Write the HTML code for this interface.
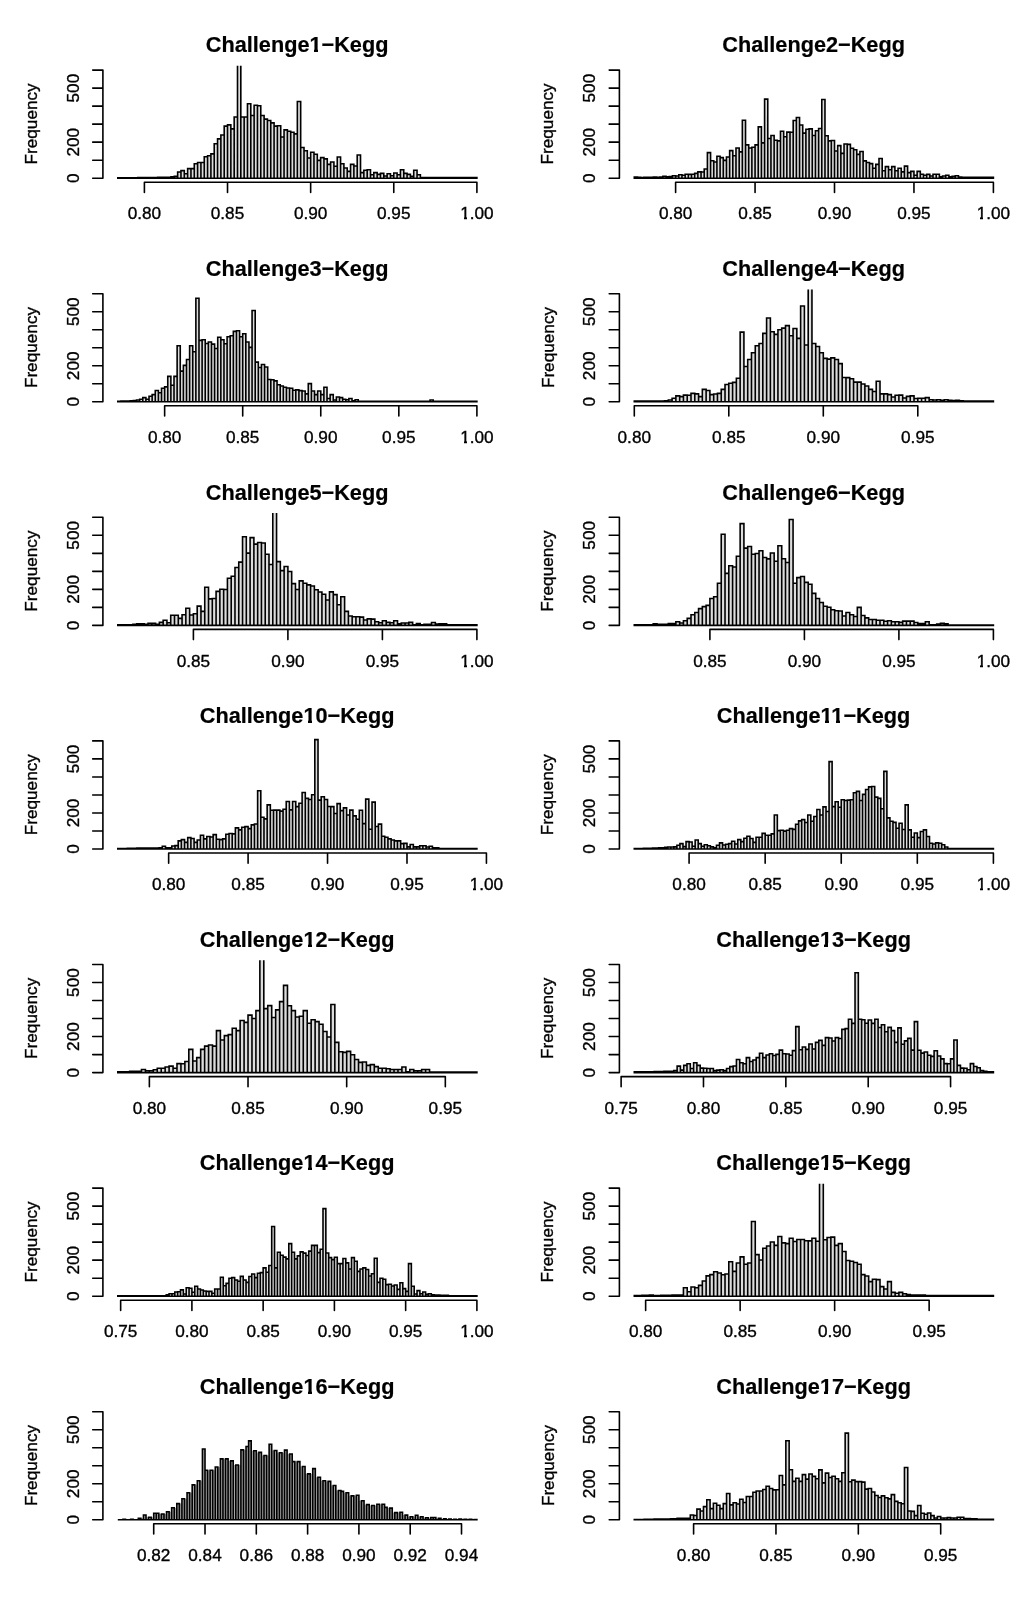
<!DOCTYPE html>
<html><head><meta charset="utf-8"><style>
html,body{margin:0;padding:0;background:#fff;}
body{width:1024px;height:1608px;overflow:hidden;}
svg{display:block;will-change:transform;}
.ax{font-family:"Liberation Sans",sans-serif;font-size:17.2px;fill:#000;stroke:#000;stroke-width:0.35px;}
.ti{font-family:"Liberation Sans",sans-serif;font-size:21.7px;font-weight:bold;fill:#000;stroke:#000;stroke-width:0.2px;}
</style></head><body>
<svg width="1024" height="1608" viewBox="0 0 1024 1608"><rect width="100%" height="100%" fill="#fff"/><clipPath id="c0"><rect x="90.00" y="65.78" width="420" height="117.42"/></clipPath><path clip-path="url(#c0)" d="M117.80 178.20V177.84H121.12V178.20ZM121.12 178.20V177.84H124.45V178.20ZM124.45 178.20V177.84H127.78V178.20ZM127.77 178.20V177.84H131.10V178.20ZM131.10 178.20V177.84H134.42V178.20ZM134.43 178.20V177.84H137.75V178.20ZM137.75 178.20V177.66H141.07V178.20ZM141.07 178.20V177.66H144.40V178.20ZM144.40 178.20V177.66H147.72V178.20ZM147.72 178.20V177.66H151.05V178.20ZM151.05 178.20V177.66H154.38V178.20ZM154.38 178.20V177.66H157.70V178.20ZM157.70 178.20V177.30H161.02V178.20ZM161.02 178.20V177.30H164.35V178.20ZM164.35 178.20V177.30H167.67V178.20ZM167.67 178.20V177.30H171.00V178.20ZM171.00 178.20V176.76H174.32V178.20ZM174.32 178.20V176.40H177.65V178.20ZM177.65 178.20V172.07H180.97V178.20ZM180.97 178.20V170.63H184.30V178.20ZM184.30 178.20V173.70H187.62V178.20ZM187.62 178.20V168.65H190.95V178.20ZM190.95 178.20V168.65H194.27V178.20ZM194.27 178.20V163.79H197.60V178.20ZM197.60 178.20V162.53H200.92V178.20ZM200.93 178.20V162.53H204.25V178.20ZM204.25 178.20V156.76H207.57V178.20ZM207.57 178.20V155.68H210.90V178.20ZM210.90 178.20V153.88H214.22V178.20ZM214.22 178.20V143.79H217.55V178.20ZM217.55 178.20V138.92H220.87V178.20ZM220.88 178.20V134.96H224.20V178.20ZM224.20 178.20V126.13H227.52V178.20ZM227.52 178.20V124.87H230.85V178.20ZM230.85 178.20V128.83H234.17V178.20ZM234.17 178.20V116.94H237.50V178.20ZM237.50 178.20V46.32H240.82V178.20ZM240.82 178.20V116.94H244.15V178.20ZM244.15 178.20V116.94H247.47V178.20ZM247.47 178.20V103.79H250.80V178.20ZM250.80 178.20V115.50H254.12V178.20ZM254.12 178.20V105.23H257.45V178.20ZM257.45 178.20V105.77H260.77V178.20ZM260.77 178.20V115.50H264.10V178.20ZM264.10 178.20V119.11H267.42V178.20ZM267.43 178.20V120.55H270.75V178.20ZM270.75 178.20V122.89H274.07V178.20ZM274.07 178.20V126.13H277.40V178.20ZM277.40 178.20V125.77H280.72V178.20ZM280.72 178.20V136.94H284.05V178.20ZM284.05 178.20V129.92H287.38V178.20ZM287.38 178.20V131.18H290.70V178.20ZM290.70 178.20V132.26H294.02V178.20ZM294.02 178.20V133.88H297.35V178.20ZM297.35 178.20V101.45H300.67V178.20ZM300.67 178.20V147.57H304.00V178.20ZM304.00 178.20V150.81H307.32V178.20ZM307.32 178.20V158.02H310.65V178.20ZM310.65 178.20V152.26H313.97V178.20ZM313.97 178.20V154.24H317.30V178.20ZM317.30 178.20V160.36H320.62V178.20ZM320.62 178.20V157.66H323.95V178.20ZM323.95 178.20V158.92H327.27V178.20ZM327.27 178.20V164.33H330.60V178.20ZM330.60 178.20V161.98H333.92V178.20ZM333.92 178.20V166.31H337.25V178.20ZM337.25 178.20V156.94H340.57V178.20ZM340.57 178.20V163.79H343.90V178.20ZM343.90 178.20V167.93H347.22V178.20ZM347.22 178.20V171.35H350.55V178.20ZM350.55 178.20V164.33H353.87V178.20ZM353.88 178.20V165.95H357.20V178.20ZM357.20 178.20V154.96H360.52V178.20ZM360.52 178.20V172.61H363.85V178.20ZM363.85 178.20V170.27H367.17V178.20ZM367.17 178.20V169.73H370.50V178.20ZM370.50 178.20V174.78H373.82V178.20ZM373.82 178.20V172.61H377.15V178.20ZM377.15 178.20V174.42H380.47V178.20ZM380.47 178.20V173.34H383.80V178.20ZM383.80 178.20V176.04H387.12V178.20ZM387.12 178.20V173.70H390.45V178.20ZM390.45 178.20V175.68H393.77V178.20ZM393.77 178.20V172.98H397.10V178.20ZM397.10 178.20V174.78H400.42V178.20ZM400.43 178.20V169.73H403.75V178.20ZM403.75 178.20V173.34H407.07V178.20ZM407.07 178.20V174.42H410.40V178.20ZM410.40 178.20V176.40H413.72V178.20ZM413.72 178.20V170.27H417.05V178.20ZM417.05 178.20V174.78H420.38V178.20ZM420.38 178.20V177.48H423.70V178.20ZM423.70 178.20V177.48H427.02V178.20ZM427.02 178.20V177.48H430.35V178.20ZM430.35 178.20V177.48H433.67V178.20ZM433.68 178.20V177.48H437.00V178.20ZM437.00 178.20V177.48H440.32V178.20ZM440.32 178.20V177.48H443.65V178.20ZM443.65 178.20V177.48H446.97V178.20ZM446.97 178.20V177.48H450.30V178.20ZM450.30 178.20V177.48H453.62V178.20ZM453.62 178.20V177.48H456.95V178.20ZM456.95 178.20V177.48H460.27V178.20ZM460.27 178.20V177.48H463.60V178.20ZM463.60 178.20V177.48H466.92V178.20ZM466.93 178.20V177.48H470.25V178.20ZM470.25 178.20V177.48H473.57V178.20ZM473.57 178.20V177.48H476.90V178.20Z" fill="#dcdcdc" stroke="#000" stroke-width="1.6" stroke-linejoin="miter"/><path d="M102.90 178.20V70.10M92.70 178.20H102.90M92.70 160.18H102.90M92.70 142.17H102.90M92.70 124.15H102.90M92.70 106.13H102.90M92.70 88.12H102.90M92.70 70.10H102.90" fill="none" stroke="#000" stroke-width="1.6" stroke-linecap="round"/><text x="78.70" y="178.20" transform="rotate(-90 78.70 178.20)" text-anchor="middle" class="ax">0</text><text x="78.70" y="142.17" transform="rotate(-90 78.70 142.17)" text-anchor="middle" class="ax">200</text><text x="78.70" y="88.12" transform="rotate(-90 78.70 88.12)" text-anchor="middle" class="ax">500</text><path d="M144.40 182.20H476.90M144.40 182.20V192.40M227.52 182.20V192.40M310.65 182.20V192.40M393.77 182.20V192.40M476.90 182.20V192.40" fill="none" stroke="#000" stroke-width="1.6" stroke-linecap="round"/><text x="144.40" y="219.40" text-anchor="middle" class="ax">0.80</text><text x="227.52" y="219.40" text-anchor="middle" class="ax">0.85</text><text x="310.65" y="219.40" text-anchor="middle" class="ax">0.90</text><text x="393.77" y="219.40" text-anchor="middle" class="ax">0.95</text><text x="476.90" y="219.40" text-anchor="middle" class="ax">1.00</text><text x="297.10" y="52.40" text-anchor="middle" class="ti">Challenge1−Kegg</text><text x="37.00" y="123.90" transform="rotate(-90 37.00 123.90)" text-anchor="middle" class="ax">Frequency</text><clipPath id="c1"><rect x="606.50" y="65.78" width="420" height="117.42"/></clipPath><path clip-path="url(#c1)" d="M634.30 178.20V177.12H637.48V178.20ZM637.48 178.20V177.30H640.66V178.20ZM640.66 178.20V177.48H643.83V178.20ZM643.83 178.20V177.30H647.01V178.20ZM647.01 178.20V177.30H650.19V178.20ZM650.19 178.20V177.30H653.37V178.20ZM653.37 178.20V177.12H656.55V178.20ZM656.55 178.20V177.30H659.72V178.20ZM659.72 178.20V177.12H662.90V178.20ZM662.90 178.20V176.40H666.08V178.20ZM666.08 178.20V176.76H669.26V178.20ZM669.26 178.20V176.58H672.43V178.20ZM672.43 178.20V175.68H675.61V178.20ZM675.61 178.20V176.04H678.79V178.20ZM678.79 178.20V174.78H681.97V178.20ZM681.97 178.20V175.32H685.15V178.20ZM685.15 178.20V174.24H688.32V178.20ZM688.32 178.20V174.42H691.50V178.20ZM691.50 178.20V174.24H694.68V178.20ZM694.68 178.20V173.34H697.86V178.20ZM697.86 178.20V171.89H701.04V178.20ZM701.04 178.20V172.07H704.21V178.20ZM704.21 178.20V169.01H707.39V178.20ZM707.39 178.20V152.62H710.57V178.20ZM710.57 178.20V160.72H713.75V178.20ZM713.75 178.20V161.98H716.92V178.20ZM716.92 178.20V156.22H720.10V178.20ZM720.10 178.20V157.66H723.28V178.20ZM723.28 178.20V160.36H726.46V178.20ZM726.46 178.20V156.94H729.64V178.20ZM729.64 178.20V150.63H732.81V178.20ZM732.81 178.20V155.68H735.99V178.20ZM735.99 178.20V147.93H739.17V178.20ZM739.17 178.20V151.90H742.35V178.20ZM742.35 178.20V120.19H745.53V178.20ZM745.53 178.20V144.87H748.70V178.20ZM748.70 178.20V147.93H751.88V178.20ZM751.88 178.20V147.21H755.06V178.20ZM755.06 178.20V144.87H758.24V178.20ZM758.24 178.20V126.85H761.42V178.20ZM761.42 178.20V142.89H764.59V178.20ZM764.59 178.20V99.11H767.77V178.20ZM767.77 178.20V138.56H770.95V178.20ZM770.95 178.20V135.50H774.13V178.20ZM774.13 178.20V140.18H777.30V178.20ZM777.30 178.20V140.91H780.48V178.20ZM780.48 178.20V131.18H783.66V178.20ZM783.66 178.20V136.76H786.84V178.20ZM786.84 178.20V132.08H790.02V178.20ZM790.02 178.20V132.26H793.19V178.20ZM793.19 178.20V120.55H796.37V178.20ZM796.37 178.20V117.48H799.55V178.20ZM799.55 178.20V125.05H802.73V178.20ZM802.73 178.20V133.16H805.91V178.20ZM805.91 178.20V129.19H809.08V178.20ZM809.08 178.20V128.83H812.26V178.20ZM812.26 178.20V135.50H815.44V178.20ZM815.44 178.20V130.82H818.62V178.20ZM818.62 178.20V128.47H821.79V178.20ZM821.79 178.20V99.47H824.97V178.20ZM824.97 178.20V135.68H828.15V178.20ZM828.15 178.20V140.91H831.33V178.20ZM831.33 178.20V140.55H834.51V178.20ZM834.51 178.20V150.99H837.68V178.20ZM837.68 178.20V145.59H840.86V178.20ZM840.86 178.20V153.34H844.04V178.20ZM844.04 178.20V143.97H847.22V178.20ZM847.22 178.20V144.33H850.40V178.20ZM850.40 178.20V148.29H853.57V178.20ZM853.57 178.20V149.73H856.75V178.20ZM856.75 178.20V154.42H859.93V178.20ZM859.93 178.20V151.54H863.11V178.20ZM863.11 178.20V160.90H866.28V178.20ZM866.28 178.20V162.53H869.46V178.20ZM869.46 178.20V163.61H872.64V178.20ZM872.64 178.20V168.29H875.82V178.20ZM875.82 178.20V164.33H879.00V178.20ZM879.00 178.20V158.56H882.17V178.20ZM882.17 178.20V170.81H885.35V178.20ZM885.35 178.20V166.67H888.53V178.20ZM888.53 178.20V169.73H891.71V178.20ZM891.71 178.20V166.67H894.89V178.20ZM894.89 178.20V170.81H898.06V178.20ZM898.06 178.20V168.29H901.24V178.20ZM901.24 178.20V171.89H904.42V178.20ZM904.42 178.20V166.13H907.60V178.20ZM907.60 178.20V172.61H910.78V178.20ZM910.78 178.20V171.35H913.95V178.20ZM913.95 178.20V175.32H917.13V178.20ZM917.13 178.20V171.35H920.31V178.20ZM920.31 178.20V174.24H923.49V178.20ZM923.49 178.20V175.32H926.66V178.20ZM926.66 178.20V174.42H929.84V178.20ZM929.84 178.20V176.04H933.02V178.20ZM933.02 178.20V174.24H936.20V178.20ZM936.20 178.20V174.24H939.38V178.20ZM939.38 178.20V176.76H942.55V178.20ZM942.55 178.20V176.04H945.73V178.20ZM945.73 178.20V175.32H948.91V178.20ZM948.91 178.20V176.76H952.09V178.20ZM952.09 178.20V176.40H955.27V178.20ZM955.27 178.20V175.68H958.44V178.20ZM958.44 178.20V177.12H961.62V178.20ZM961.62 178.20V177.30H964.80V178.20ZM964.80 178.20V177.30H967.98V178.20ZM967.98 178.20V177.30H971.15V178.20ZM971.15 178.20V177.30H974.33V178.20ZM974.33 178.20V177.30H977.51V178.20ZM977.51 178.20V177.30H980.69V178.20ZM980.69 178.20V177.30H983.87V178.20ZM983.87 178.20V177.30H987.04V178.20ZM987.04 178.20V177.30H990.22V178.20ZM990.22 178.20V177.30H993.40V178.20Z" fill="#dcdcdc" stroke="#000" stroke-width="1.6" stroke-linejoin="miter"/><path d="M619.40 178.20V70.10M609.20 178.20H619.40M609.20 160.18H619.40M609.20 142.17H619.40M609.20 124.15H619.40M609.20 106.13H619.40M609.20 88.12H619.40M609.20 70.10H619.40" fill="none" stroke="#000" stroke-width="1.6" stroke-linecap="round"/><text x="595.20" y="178.20" transform="rotate(-90 595.20 178.20)" text-anchor="middle" class="ax">0</text><text x="595.20" y="142.17" transform="rotate(-90 595.20 142.17)" text-anchor="middle" class="ax">200</text><text x="595.20" y="88.12" transform="rotate(-90 595.20 88.12)" text-anchor="middle" class="ax">500</text><path d="M675.61 182.20H993.40M675.61 182.20V192.40M755.06 182.20V192.40M834.51 182.20V192.40M913.95 182.20V192.40M993.40 182.20V192.40" fill="none" stroke="#000" stroke-width="1.6" stroke-linecap="round"/><text x="675.61" y="219.40" text-anchor="middle" class="ax">0.80</text><text x="755.06" y="219.40" text-anchor="middle" class="ax">0.85</text><text x="834.51" y="219.40" text-anchor="middle" class="ax">0.90</text><text x="913.95" y="219.40" text-anchor="middle" class="ax">0.95</text><text x="993.40" y="219.40" text-anchor="middle" class="ax">1.00</text><text x="813.60" y="52.40" text-anchor="middle" class="ti">Challenge2−Kegg</text><text x="553.50" y="123.90" transform="rotate(-90 553.50 123.90)" text-anchor="middle" class="ax">Frequency</text><clipPath id="c2"><rect x="90.00" y="289.38" width="420" height="117.42"/></clipPath><path clip-path="url(#c2)" d="M117.80 401.80V401.26H120.92V401.80ZM120.92 401.80V401.08H124.05V401.80ZM124.05 401.80V401.08H127.17V401.80ZM127.17 401.80V401.08H130.29V401.80ZM130.29 401.80V400.90H133.41V401.80ZM133.41 401.80V400.54H136.54V401.80ZM136.54 401.80V400.00H139.66V401.80ZM139.66 401.80V399.28H142.78V401.80ZM142.78 401.80V397.66H145.90V401.80ZM145.90 401.80V399.28H149.03V401.80ZM149.03 401.80V396.21H152.15V401.80ZM152.15 401.80V394.59H155.27V401.80ZM155.27 401.80V390.45H158.39V401.80ZM158.39 401.80V392.79H161.52V401.80ZM161.52 401.80V388.29H164.64V401.80ZM164.64 401.80V386.85H167.76V401.80ZM167.76 401.80V376.40H170.88V401.80ZM170.88 401.80V385.22H174.01V401.80ZM174.01 401.80V376.40H177.13V401.80ZM177.13 401.80V345.77H180.25V401.80ZM180.25 401.80V371.17H183.37V401.80ZM183.37 401.80V365.41H186.50V401.80ZM186.50 401.80V359.46H189.62V401.80ZM189.62 401.80V345.77H192.74V401.80ZM192.74 401.80V351.71H195.87V401.80ZM195.87 401.80V298.20H198.99V401.80ZM198.99 401.80V340.36H202.11V401.80ZM202.11 401.80V339.82H205.23V401.80ZM205.23 401.80V343.43H208.36V401.80ZM208.36 401.80V341.98H211.48V401.80ZM211.48 401.80V344.15H214.60V401.80ZM214.60 401.80V348.47H217.72V401.80ZM217.72 401.80V337.30H220.85V401.80ZM220.85 401.80V339.82H223.97V401.80ZM223.97 401.80V343.79H227.09V401.80ZM227.09 401.80V336.76H230.21V401.80ZM230.21 401.80V335.68H233.34V401.80ZM233.34 401.80V331.35H236.46V401.80ZM236.46 401.80V330.81H239.58V401.80ZM239.58 401.80V336.76H242.70V401.80ZM242.70 401.80V333.70H245.83V401.80ZM245.83 401.80V341.98H248.95V401.80ZM248.95 401.80V347.39H252.07V401.80ZM252.07 401.80V310.46H255.19V401.80ZM255.19 401.80V362.16H258.32V401.80ZM258.32 401.80V367.57H261.44V401.80ZM261.44 401.80V364.51H264.56V401.80ZM264.56 401.80V367.03H267.69V401.80ZM267.69 401.80V379.46H270.81V401.80ZM270.81 401.80V379.82H273.93V401.80ZM273.93 401.80V380.90H277.05V401.80ZM277.05 401.80V384.68H280.18V401.80ZM280.18 401.80V385.95H283.30V401.80ZM283.30 401.80V387.21H286.42V401.80ZM286.42 401.80V387.93H289.54V401.80ZM289.54 401.80V388.29H292.67V401.80ZM292.67 401.80V390.27H295.79V401.80ZM295.79 401.80V389.91H298.91V401.80ZM298.91 401.80V390.63H302.03V401.80ZM302.03 401.80V390.99H305.16V401.80ZM305.16 401.80V393.87H308.28V401.80ZM308.28 401.80V383.60H311.40V401.80ZM311.40 401.80V390.99H314.52V401.80ZM314.52 401.80V394.59H317.65V401.80ZM317.65 401.80V390.99H320.77V401.80ZM320.77 401.80V394.59H323.89V401.80ZM323.89 401.80V387.21H327.01V401.80ZM327.01 401.80V398.56H330.14V401.80ZM330.14 401.80V394.59H333.26V401.80ZM333.26 401.80V400.00H336.38V401.80ZM336.38 401.80V396.94H339.51V401.80ZM339.51 401.80V397.66H342.63V401.80ZM342.63 401.80V399.28H345.75V401.80ZM345.75 401.80V399.82H348.87V401.80ZM348.87 401.80V398.56H352.00V401.80ZM352.00 401.80V400.90H355.12V401.80ZM355.12 401.80V399.82H358.24V401.80ZM358.24 401.80V401.26H361.36V401.80ZM361.36 401.80V401.26H364.49V401.80ZM364.49 401.80V401.26H367.61V401.80ZM367.61 401.80V401.26H370.73V401.80ZM370.73 401.80V401.26H373.85V401.80ZM373.85 401.80V401.26H376.98V401.80ZM376.98 401.80V401.26H380.10V401.80ZM380.10 401.80V401.26H383.22V401.80ZM383.22 401.80V401.26H386.34V401.80ZM386.34 401.80V401.26H389.47V401.80ZM389.47 401.80V401.26H392.59V401.80ZM392.59 401.80V401.26H395.71V401.80ZM395.71 401.80V401.26H398.83V401.80ZM398.83 401.80V401.26H401.96V401.80ZM401.96 401.80V401.26H405.08V401.80ZM405.08 401.80V401.26H408.20V401.80ZM408.20 401.80V401.26H411.33V401.80ZM411.33 401.80V401.26H414.45V401.80ZM414.45 401.80V401.26H417.57V401.80ZM417.57 401.80V401.26H420.69V401.80ZM420.69 401.80V401.26H423.82V401.80ZM423.82 401.80V401.26H426.94V401.80ZM426.94 401.80V401.26H430.06V401.80ZM430.06 401.80V400.00H433.18V401.80ZM433.18 401.80V401.26H436.31V401.80ZM436.31 401.80V401.26H439.43V401.80ZM439.43 401.80V401.26H442.55V401.80ZM442.55 401.80V401.26H445.67V401.80ZM445.67 401.80V401.26H448.80V401.80ZM448.80 401.80V401.26H451.92V401.80ZM451.92 401.80V401.26H455.04V401.80ZM455.04 401.80V401.26H458.16V401.80ZM458.16 401.80V401.26H461.29V401.80ZM461.29 401.80V401.26H464.41V401.80ZM464.41 401.80V401.26H467.53V401.80ZM467.53 401.80V401.26H470.65V401.80ZM470.65 401.80V401.26H473.78V401.80ZM473.78 401.80V401.26H476.90V401.80Z" fill="#dcdcdc" stroke="#000" stroke-width="1.6" stroke-linejoin="miter"/><path d="M102.90 401.80V293.70M92.70 401.80H102.90M92.70 383.78H102.90M92.70 365.77H102.90M92.70 347.75H102.90M92.70 329.73H102.90M92.70 311.72H102.90M92.70 293.70H102.90" fill="none" stroke="#000" stroke-width="1.6" stroke-linecap="round"/><text x="78.70" y="401.80" transform="rotate(-90 78.70 401.80)" text-anchor="middle" class="ax">0</text><text x="78.70" y="365.77" transform="rotate(-90 78.70 365.77)" text-anchor="middle" class="ax">200</text><text x="78.70" y="311.72" transform="rotate(-90 78.70 311.72)" text-anchor="middle" class="ax">500</text><path d="M164.64 405.80H476.90M164.64 405.80V416.00M242.70 405.80V416.00M320.77 405.80V416.00M398.83 405.80V416.00M476.90 405.80V416.00" fill="none" stroke="#000" stroke-width="1.6" stroke-linecap="round"/><text x="164.64" y="443.00" text-anchor="middle" class="ax">0.80</text><text x="242.70" y="443.00" text-anchor="middle" class="ax">0.85</text><text x="320.77" y="443.00" text-anchor="middle" class="ax">0.90</text><text x="398.83" y="443.00" text-anchor="middle" class="ax">0.95</text><text x="476.90" y="443.00" text-anchor="middle" class="ax">1.00</text><text x="297.10" y="276.00" text-anchor="middle" class="ti">Challenge3−Kegg</text><text x="37.00" y="347.50" transform="rotate(-90 37.00 347.50)" text-anchor="middle" class="ax">Frequency</text><clipPath id="c3"><rect x="606.50" y="289.38" width="420" height="117.42"/></clipPath><path clip-path="url(#c3)" d="M634.30 401.80V401.08H638.08V401.80ZM638.08 401.80V401.08H641.86V401.80ZM641.86 401.80V401.08H645.64V401.80ZM645.64 401.80V401.08H649.42V401.80ZM649.42 401.80V401.08H653.20V401.80ZM653.20 401.80V401.08H656.98V401.80ZM656.98 401.80V401.08H660.76V401.80ZM660.76 401.80V401.08H664.54V401.80ZM664.54 401.80V400.90H668.32V401.80ZM668.32 401.80V400.00H672.10V401.80ZM672.10 401.80V398.20H675.88V401.80ZM675.88 401.80V395.85H679.66V401.80ZM679.66 401.80V396.58H683.44V401.80ZM683.44 401.80V395.13H687.22V401.80ZM687.22 401.80V395.31H691.00V401.80ZM691.00 401.80V393.33H694.78V401.80ZM694.78 401.80V393.87H698.56V401.80ZM698.56 401.80V396.58H702.34V401.80ZM702.34 401.80V389.37H706.12V401.80ZM706.12 401.80V390.45H709.90V401.80ZM709.90 401.80V394.59H713.68V401.80ZM713.68 401.80V394.05H717.46V401.80ZM717.46 401.80V393.33H721.24V401.80ZM721.24 401.80V389.37H725.02V401.80ZM725.02 401.80V384.50H728.80V401.80ZM728.80 401.80V383.24H732.58V401.80ZM732.58 401.80V382.34H736.36V401.80ZM736.36 401.80V378.20H740.14V401.80ZM740.14 401.80V332.08H743.92V401.80ZM743.92 401.80V366.49H747.70V401.80ZM747.70 401.80V359.46H751.48V401.80ZM751.48 401.80V352.79H755.26V401.80ZM755.26 401.80V345.77H759.04V401.80ZM759.04 401.80V343.43H762.82V401.80ZM762.82 401.80V333.34H766.60V401.80ZM766.60 401.80V318.02H770.38V401.80ZM770.38 401.80V331.72H774.16V401.80ZM774.16 401.80V334.42H777.94V401.80ZM777.94 401.80V329.73H781.72V401.80ZM781.72 401.80V328.11H785.50V401.80ZM785.50 401.80V325.59H789.28V401.80ZM789.28 401.80V335.68H793.06V401.80ZM793.06 401.80V328.47H796.84V401.80ZM796.84 401.80V338.38H800.62V401.80ZM800.62 401.80V305.95H804.40V401.80ZM804.40 401.80V345.05H808.18V401.80ZM808.18 401.80V270.46H811.96V401.80ZM811.96 401.80V343.43H815.74V401.80ZM815.74 401.80V346.49H819.52V401.80ZM819.52 401.80V352.79H823.30V401.80ZM823.30 401.80V358.38H827.08V401.80ZM827.08 401.80V359.10H830.86V401.80ZM830.86 401.80V357.84H834.64V401.80ZM834.64 401.80V359.46H838.42V401.80ZM838.42 401.80V363.60H842.20V401.80ZM842.20 401.80V377.48H845.98V401.80ZM845.98 401.80V377.66H849.76V401.80ZM849.76 401.80V378.74H853.54V401.80ZM853.54 401.80V382.16H857.32V401.80ZM857.32 401.80V382.16H861.10V401.80ZM861.10 401.80V383.96H864.88V401.80ZM864.88 401.80V385.95H868.66V401.80ZM868.66 401.80V389.37H872.44V401.80ZM872.44 401.80V391.53H876.22V401.80ZM876.22 401.80V381.26H880.00V401.80ZM880.00 401.80V393.87H883.78V401.80ZM883.78 401.80V393.87H887.56V401.80ZM887.56 401.80V394.59H891.34V401.80ZM891.34 401.80V396.94H895.12V401.80ZM895.12 401.80V395.31H898.90V401.80ZM898.90 401.80V395.13H902.68V401.80ZM902.68 401.80V398.02H906.46V401.80ZM906.46 401.80V396.39H910.24V401.80ZM910.24 401.80V395.85H914.02V401.80ZM914.02 401.80V398.56H917.80V401.80ZM917.80 401.80V398.20H921.58V401.80ZM921.58 401.80V398.20H925.36V401.80ZM925.36 401.80V397.66H929.14V401.80ZM929.14 401.80V399.82H932.92V401.80ZM932.92 401.80V400.00H936.70V401.80ZM936.70 401.80V399.82H940.48V401.80ZM940.48 401.80V400.36H944.26V401.80ZM944.26 401.80V399.82H948.04V401.80ZM948.04 401.80V400.36H951.82V401.80ZM951.82 401.80V400.54H955.60V401.80ZM955.60 401.80V400.36H959.38V401.80ZM959.38 401.80V400.72H963.16V401.80ZM963.16 401.80V401.08H966.94V401.80ZM966.94 401.80V401.08H970.72V401.80ZM970.72 401.80V401.08H974.50V401.80ZM974.50 401.80V401.08H978.28V401.80ZM978.28 401.80V401.08H982.06V401.80ZM982.06 401.80V401.08H985.84V401.80ZM985.84 401.80V401.08H989.62V401.80ZM989.62 401.80V401.08H993.40V401.80Z" fill="#dcdcdc" stroke="#000" stroke-width="1.6" stroke-linejoin="miter"/><path d="M619.40 401.80V293.70M609.20 401.80H619.40M609.20 383.78H619.40M609.20 365.77H619.40M609.20 347.75H619.40M609.20 329.73H619.40M609.20 311.72H619.40M609.20 293.70H619.40" fill="none" stroke="#000" stroke-width="1.6" stroke-linecap="round"/><text x="595.20" y="401.80" transform="rotate(-90 595.20 401.80)" text-anchor="middle" class="ax">0</text><text x="595.20" y="365.77" transform="rotate(-90 595.20 365.77)" text-anchor="middle" class="ax">200</text><text x="595.20" y="311.72" transform="rotate(-90 595.20 311.72)" text-anchor="middle" class="ax">500</text><path d="M634.30 405.80H917.80M634.30 405.80V416.00M728.80 405.80V416.00M823.30 405.80V416.00M917.80 405.80V416.00" fill="none" stroke="#000" stroke-width="1.6" stroke-linecap="round"/><text x="634.30" y="443.00" text-anchor="middle" class="ax">0.80</text><text x="728.80" y="443.00" text-anchor="middle" class="ax">0.85</text><text x="823.30" y="443.00" text-anchor="middle" class="ax">0.90</text><text x="917.80" y="443.00" text-anchor="middle" class="ax">0.95</text><text x="813.60" y="276.00" text-anchor="middle" class="ti">Challenge4−Kegg</text><text x="553.50" y="347.50" transform="rotate(-90 553.50 347.50)" text-anchor="middle" class="ax">Frequency</text><clipPath id="c4"><rect x="90.00" y="512.98" width="420" height="117.42"/></clipPath><path clip-path="url(#c4)" d="M117.80 625.40V624.86H121.58V625.40ZM121.58 625.40V624.86H125.36V625.40ZM125.36 625.40V624.68H129.14V625.40ZM129.14 625.40V624.68H132.92V625.40ZM132.92 625.40V624.32H136.70V625.40ZM136.70 625.40V623.78H140.48V625.40ZM140.48 625.40V623.78H144.26V625.40ZM144.26 625.40V624.32H148.04V625.40ZM148.04 625.40V623.42H151.82V625.40ZM151.82 625.40V623.42H155.60V625.40ZM155.60 625.40V624.32H159.38V625.40ZM159.38 625.40V622.34H163.16V625.40ZM163.16 625.40V620.18H166.94V625.40ZM166.94 625.40V622.70H170.72V625.40ZM170.72 625.40V615.31H174.50V625.40ZM174.50 625.40V615.31H178.28V625.40ZM178.28 625.40V618.37H182.06V625.40ZM182.06 625.40V614.77H185.84V625.40ZM185.84 625.40V608.28H189.62V625.40ZM189.62 625.40V614.95H193.40V625.40ZM193.40 625.40V613.69H197.18V625.40ZM197.18 625.40V606.12H200.96V625.40ZM200.96 625.40V611.35H204.74V625.40ZM204.74 625.40V587.20H208.52V625.40ZM208.52 625.40V598.92H212.30V625.40ZM212.30 625.40V598.56H216.08V625.40ZM216.08 625.40V591.35H219.86V625.40ZM219.86 625.40V589.19H223.64V625.40ZM223.64 625.40V589.55H227.42V625.40ZM227.42 625.40V578.20H231.20V625.40ZM231.20 625.40V576.21H234.98V625.40ZM234.98 625.40V567.57H238.76V625.40ZM238.76 625.40V562.16H242.54V625.40ZM242.54 625.40V536.76H246.32V625.40ZM246.32 625.40V553.15H250.10V625.40ZM250.10 625.40V537.66H253.88V625.40ZM253.88 625.40V544.14H257.66V625.40ZM257.66 625.40V542.52H261.44V625.40ZM261.44 625.40V543.06H265.22V625.40ZM265.22 625.40V554.23H269.00V625.40ZM269.00 625.40V564.50H272.78V625.40ZM272.78 625.40V493.34H276.56V625.40ZM276.56 625.40V561.62H280.34V625.40ZM280.34 625.40V570.63H284.12V625.40ZM284.12 625.40V566.49H287.90V625.40ZM287.90 625.40V571.53H291.68V625.40ZM291.68 625.40V583.60H295.46V625.40ZM295.46 625.40V589.55H299.24V625.40ZM299.24 625.40V580.90H303.02V625.40ZM303.02 625.40V583.24H306.80V625.40ZM306.80 625.40V584.86H310.58V625.40ZM310.58 625.40V585.94H314.36V625.40ZM314.36 625.40V589.73H318.14V625.40ZM318.14 625.40V592.07H321.92V625.40ZM321.92 625.40V594.23H325.70V625.40ZM325.70 625.40V600.00H329.48V625.40ZM329.48 625.40V591.89H333.26V625.40ZM333.26 625.40V594.59H337.04V625.40ZM337.04 625.40V604.68H340.82V625.40ZM340.82 625.40V596.75H344.60V625.40ZM344.60 625.40V611.35H348.38V625.40ZM348.38 625.40V616.03H352.16V625.40ZM352.16 625.40V616.75H355.94V625.40ZM355.94 625.40V616.75H359.72V625.40ZM359.72 625.40V617.11H363.50V625.40ZM363.50 625.40V620.00H367.28V625.40ZM367.28 625.40V618.91H371.06V625.40ZM371.06 625.40V619.09H374.84V625.40ZM374.84 625.40V621.80H378.62V625.40ZM378.62 625.40V622.70H382.40V625.40ZM382.40 625.40V620.72H386.18V625.40ZM386.18 625.40V622.34H389.96V625.40ZM389.96 625.40V622.70H393.74V625.40ZM393.74 625.40V620.72H397.52V625.40ZM397.52 625.40V623.78H401.30V625.40ZM401.30 625.40V623.06H405.08V625.40ZM405.08 625.40V623.06H408.86V625.40ZM408.86 625.40V622.34H412.64V625.40ZM412.64 625.40V624.68H416.42V625.40ZM416.42 625.40V623.60H420.20V625.40ZM420.20 625.40V624.68H423.98V625.40ZM423.98 625.40V624.32H427.76V625.40ZM427.76 625.40V624.32H431.54V625.40ZM431.54 625.40V622.52H435.32V625.40ZM435.32 625.40V624.14H439.10V625.40ZM439.10 625.40V623.78H442.88V625.40ZM442.88 625.40V623.78H446.66V625.40ZM446.66 625.40V624.86H450.44V625.40ZM450.44 625.40V624.86H454.22V625.40ZM454.22 625.40V624.86H458.00V625.40ZM458.00 625.40V624.86H461.78V625.40ZM461.78 625.40V624.86H465.56V625.40ZM465.56 625.40V624.86H469.34V625.40ZM469.34 625.40V624.86H473.12V625.40ZM473.12 625.40V624.86H476.90V625.40Z" fill="#dcdcdc" stroke="#000" stroke-width="1.6" stroke-linejoin="miter"/><path d="M102.90 625.40V517.30M92.70 625.40H102.90M92.70 607.38H102.90M92.70 589.37H102.90M92.70 571.35H102.90M92.70 553.33H102.90M92.70 535.32H102.90M92.70 517.30H102.90" fill="none" stroke="#000" stroke-width="1.6" stroke-linecap="round"/><text x="78.70" y="625.40" transform="rotate(-90 78.70 625.40)" text-anchor="middle" class="ax">0</text><text x="78.70" y="589.37" transform="rotate(-90 78.70 589.37)" text-anchor="middle" class="ax">200</text><text x="78.70" y="535.32" transform="rotate(-90 78.70 535.32)" text-anchor="middle" class="ax">500</text><path d="M193.40 629.40H476.90M193.40 629.40V639.60M287.90 629.40V639.60M382.40 629.40V639.60M476.90 629.40V639.60" fill="none" stroke="#000" stroke-width="1.6" stroke-linecap="round"/><text x="193.40" y="666.60" text-anchor="middle" class="ax">0.85</text><text x="287.90" y="666.60" text-anchor="middle" class="ax">0.90</text><text x="382.40" y="666.60" text-anchor="middle" class="ax">0.95</text><text x="476.90" y="666.60" text-anchor="middle" class="ax">1.00</text><text x="297.10" y="499.60" text-anchor="middle" class="ti">Challenge5−Kegg</text><text x="37.00" y="571.10" transform="rotate(-90 37.00 571.10)" text-anchor="middle" class="ax">Frequency</text><clipPath id="c5"><rect x="606.50" y="512.98" width="420" height="117.42"/></clipPath><path clip-path="url(#c5)" d="M634.30 625.40V624.68H638.08V625.40ZM638.08 625.40V624.68H641.86V625.40ZM641.86 625.40V624.68H645.64V625.40ZM645.64 625.40V624.68H649.42V625.40ZM649.42 625.40V624.68H653.20V625.40ZM653.20 625.40V623.78H656.98V625.40ZM656.98 625.40V624.32H660.76V625.40ZM660.76 625.40V624.32H664.54V625.40ZM664.54 625.40V624.32H668.32V625.40ZM668.32 625.40V623.60H672.10V625.40ZM672.10 625.40V623.60H675.88V625.40ZM675.88 625.40V621.80H679.66V625.40ZM679.66 625.40V623.06H683.44V625.40ZM683.44 625.40V620.72H687.22V625.40ZM687.22 625.40V618.37H691.00V625.40ZM691.00 625.40V614.77H694.78V625.40ZM694.78 625.40V612.43H698.56V625.40ZM698.56 625.40V608.64H702.34V625.40ZM702.34 625.40V606.66H706.12V625.40ZM706.12 625.40V605.40H709.90V625.40ZM709.90 625.40V598.56H713.68V625.40ZM713.68 625.40V596.75H717.46V625.40ZM717.46 625.40V583.24H721.24V625.40ZM721.24 625.40V534.24H725.02V625.40ZM725.02 625.40V573.33H728.80V625.40ZM728.80 625.40V565.76H732.58V625.40ZM732.58 625.40V567.03H736.36V625.40ZM736.36 625.40V556.22H740.14V625.40ZM740.14 625.40V523.61H743.92V625.40ZM743.92 625.40V548.11H747.70V625.40ZM747.70 625.40V546.49H751.48V625.40ZM751.48 625.40V554.23H755.26V625.40ZM755.26 625.40V553.51H759.04V625.40ZM759.04 625.40V550.81H762.82V625.40ZM762.82 625.40V557.48H766.60V625.40ZM766.60 625.40V558.92H770.38V625.40ZM770.38 625.40V552.97H774.16V625.40ZM774.16 625.40V561.26H777.94V625.40ZM777.94 625.40V545.77H781.72V625.40ZM781.72 625.40V558.74H785.50V625.40ZM785.50 625.40V562.52H789.28V625.40ZM789.28 625.40V519.46H793.06V625.40ZM793.06 625.40V583.24H796.84V625.40ZM796.84 625.40V577.66H800.62V625.40ZM800.62 625.40V576.57H804.40V625.40ZM804.40 625.40V582.34H808.18V625.40ZM808.18 625.40V584.32H811.96V625.40ZM811.96 625.40V593.33H815.74V625.40ZM815.74 625.40V598.56H819.52V625.40ZM819.52 625.40V602.52H823.30V625.40ZM823.30 625.40V606.30H827.08V625.40ZM827.08 625.40V607.20H830.86V625.40ZM830.86 625.40V609.73H834.64V625.40ZM834.64 625.40V610.81H838.42V625.40ZM838.42 625.40V610.99H842.20V625.40ZM842.20 625.40V616.03H845.98V625.40ZM845.98 625.40V612.43H849.76V625.40ZM849.76 625.40V614.77H853.54V625.40ZM853.54 625.40V616.57H857.32V625.40ZM857.32 625.40V607.38H861.10V625.40ZM861.10 625.40V615.49H864.88V625.40ZM864.88 625.40V617.83H868.66V625.40ZM868.66 625.40V619.45H872.44V625.40ZM872.44 625.40V619.45H876.22V625.40ZM876.22 625.40V620.18H880.00V625.40ZM880.00 625.40V620.18H883.78V625.40ZM883.78 625.40V621.26H887.56V625.40ZM887.56 625.40V620.72H891.34V625.40ZM891.34 625.40V621.80H895.12V625.40ZM895.12 625.40V621.80H898.90V625.40ZM898.90 625.40V622.34H902.68V625.40ZM902.68 625.40V621.08H906.46V625.40ZM906.46 625.40V621.08H910.24V625.40ZM910.24 625.40V621.08H914.02V625.40ZM914.02 625.40V622.52H917.80V625.40ZM917.80 625.40V623.60H921.58V625.40ZM921.58 625.40V623.60H925.36V625.40ZM925.36 625.40V621.80H929.14V625.40ZM929.14 625.40V624.68H932.92V625.40ZM932.92 625.40V624.68H936.70V625.40ZM936.70 625.40V624.14H940.48V625.40ZM940.48 625.40V623.42H944.26V625.40ZM944.26 625.40V623.78H948.04V625.40ZM948.04 625.40V625.04H951.82V625.40ZM951.82 625.40V625.04H955.60V625.40ZM955.60 625.40V625.04H959.38V625.40ZM959.38 625.40V625.04H963.16V625.40ZM963.16 625.40V625.04H966.94V625.40ZM966.94 625.40V625.04H970.72V625.40ZM970.72 625.40V625.04H974.50V625.40ZM974.50 625.40V625.04H978.28V625.40ZM978.28 625.40V625.04H982.06V625.40ZM982.06 625.40V625.04H985.84V625.40ZM985.84 625.40V625.04H989.62V625.40ZM989.62 625.40V625.04H993.40V625.40Z" fill="#dcdcdc" stroke="#000" stroke-width="1.6" stroke-linejoin="miter"/><path d="M619.40 625.40V517.30M609.20 625.40H619.40M609.20 607.38H619.40M609.20 589.37H619.40M609.20 571.35H619.40M609.20 553.33H619.40M609.20 535.32H619.40M609.20 517.30H619.40" fill="none" stroke="#000" stroke-width="1.6" stroke-linecap="round"/><text x="595.20" y="625.40" transform="rotate(-90 595.20 625.40)" text-anchor="middle" class="ax">0</text><text x="595.20" y="589.37" transform="rotate(-90 595.20 589.37)" text-anchor="middle" class="ax">200</text><text x="595.20" y="535.32" transform="rotate(-90 595.20 535.32)" text-anchor="middle" class="ax">500</text><path d="M709.90 629.40H993.40M709.90 629.40V639.60M804.40 629.40V639.60M898.90 629.40V639.60M993.40 629.40V639.60" fill="none" stroke="#000" stroke-width="1.6" stroke-linecap="round"/><text x="709.90" y="666.60" text-anchor="middle" class="ax">0.85</text><text x="804.40" y="666.60" text-anchor="middle" class="ax">0.90</text><text x="898.90" y="666.60" text-anchor="middle" class="ax">0.95</text><text x="993.40" y="666.60" text-anchor="middle" class="ax">1.00</text><text x="813.60" y="499.60" text-anchor="middle" class="ti">Challenge6−Kegg</text><text x="553.50" y="571.10" transform="rotate(-90 553.50 571.10)" text-anchor="middle" class="ax">Frequency</text><clipPath id="c6"><rect x="90.00" y="736.58" width="420" height="117.42"/></clipPath><path clip-path="url(#c6)" d="M117.80 849.00V848.46H120.98V849.00ZM120.98 849.00V848.46H124.16V849.00ZM124.16 849.00V848.46H127.33V849.00ZM127.33 849.00V848.28H130.51V849.00ZM130.51 849.00V848.28H133.69V849.00ZM133.69 849.00V848.28H136.87V849.00ZM136.87 849.00V848.10H140.05V849.00ZM140.05 849.00V848.10H143.22V849.00ZM143.22 849.00V848.10H146.40V849.00ZM146.40 849.00V848.10H149.58V849.00ZM149.58 849.00V848.10H152.76V849.00ZM152.76 849.00V848.10H155.93V849.00ZM155.93 849.00V848.10H159.11V849.00ZM159.11 849.00V847.92H162.29V849.00ZM162.29 849.00V846.30H165.47V849.00ZM165.47 849.00V847.92H168.65V849.00ZM168.65 849.00V847.92H171.82V849.00ZM171.82 849.00V845.94H175.00V849.00ZM175.00 849.00V845.58H178.18V849.00ZM178.18 849.00V840.89H181.36V849.00ZM181.36 849.00V839.63H184.54V849.00ZM184.54 849.00V842.33H187.71V849.00ZM187.71 849.00V837.65H190.89V849.00ZM190.89 849.00V838.55H194.07V849.00ZM194.07 849.00V842.33H197.25V849.00ZM197.25 849.00V839.99H200.42V849.00ZM200.42 849.00V835.31H203.60V849.00ZM203.60 849.00V838.91H206.78V849.00ZM206.78 849.00V836.57H209.96V849.00ZM209.96 849.00V836.93H213.14V849.00ZM213.14 849.00V834.59H216.31V849.00ZM216.31 849.00V839.27H219.49V849.00ZM219.49 849.00V839.63H222.67V849.00ZM222.67 849.00V838.91H225.85V849.00ZM225.85 849.00V834.23H229.03V849.00ZM229.03 849.00V833.51H232.20V849.00ZM232.20 849.00V833.87H235.38V849.00ZM235.38 849.00V827.92H238.56V849.00ZM238.56 849.00V829.90H241.74V849.00ZM241.74 849.00V827.20H244.92V849.00ZM244.92 849.00V826.66H248.09V849.00ZM248.09 849.00V828.64H251.27V849.00ZM251.27 849.00V824.86H254.45V849.00ZM254.45 849.00V823.96H257.63V849.00ZM257.63 849.00V790.81H260.80V849.00ZM260.80 849.00V817.29H263.98V849.00ZM263.98 849.00V818.91H267.16V849.00ZM267.16 849.00V804.86H270.34V849.00ZM270.34 849.00V810.26H273.52V849.00ZM273.52 849.00V810.08H276.69V849.00ZM276.69 849.00V810.08H279.87V849.00ZM279.87 849.00V811.16H283.05V849.00ZM283.05 849.00V809.18H286.23V849.00ZM286.23 849.00V801.44H289.41V849.00ZM289.41 849.00V809.90H292.58V849.00ZM292.58 849.00V801.44H295.76V849.00ZM295.76 849.00V806.66H298.94V849.00ZM298.94 849.00V803.24H302.12V849.00ZM302.12 849.00V792.43H305.29V849.00ZM305.29 849.00V798.37H308.47V849.00ZM308.47 849.00V799.45H311.65V849.00ZM311.65 849.00V794.77H314.83V849.00ZM314.83 849.00V739.64H318.01V849.00ZM318.01 849.00V800.17H321.18V849.00ZM321.18 849.00V796.75H324.36V849.00ZM324.36 849.00V799.45H327.54V849.00ZM327.54 849.00V806.48H330.72V849.00ZM330.72 849.00V806.66H333.90V849.00ZM333.90 849.00V813.51H337.07V849.00ZM337.07 849.00V803.60H340.25V849.00ZM340.25 849.00V810.62H343.43V849.00ZM343.43 849.00V807.92H346.61V849.00ZM346.61 849.00V814.95H349.78V849.00ZM349.78 849.00V810.08H352.96V849.00ZM352.96 849.00V815.85H356.14V849.00ZM356.14 849.00V819.27H359.32V849.00ZM359.32 849.00V810.26H362.50V849.00ZM362.50 849.00V823.60H365.67V849.00ZM365.67 849.00V799.09H368.85V849.00ZM368.85 849.00V829.18H372.03V849.00ZM372.03 849.00V802.16H375.21V849.00ZM375.21 849.00V826.48H378.39V849.00ZM378.39 849.00V824.14H381.56V849.00ZM381.56 849.00V836.21H384.74V849.00ZM384.74 849.00V837.29H387.92V849.00ZM387.92 849.00V838.91H391.10V849.00ZM391.10 849.00V839.99H394.28V849.00ZM394.28 849.00V840.89H397.45V849.00ZM397.45 849.00V840.89H400.63V849.00ZM400.63 849.00V843.60H403.81V849.00ZM403.81 849.00V843.41H406.99V849.00ZM406.99 849.00V846.84H410.16V849.00ZM410.16 849.00V844.50H413.34V849.00ZM413.34 849.00V846.84H416.52V849.00ZM416.52 849.00V846.84H419.70V849.00ZM419.70 849.00V845.76H422.88V849.00ZM422.88 849.00V845.76H426.05V849.00ZM426.05 849.00V847.02H429.23V849.00ZM429.23 849.00V846.30H432.41V849.00ZM432.41 849.00V847.92H435.59V849.00ZM435.59 849.00V847.92H438.77V849.00ZM438.77 849.00V848.64H441.94V849.00ZM441.94 849.00V848.64H445.12V849.00ZM445.12 849.00V848.64H448.30V849.00ZM448.30 849.00V848.64H451.48V849.00ZM451.48 849.00V848.64H454.65V849.00ZM454.65 849.00V848.64H457.83V849.00ZM457.83 849.00V848.64H461.01V849.00ZM461.01 849.00V848.64H464.19V849.00ZM464.19 849.00V848.64H467.37V849.00ZM467.37 849.00V848.64H470.54V849.00ZM470.54 849.00V848.64H473.72V849.00ZM473.72 849.00V848.64H476.90V849.00Z" fill="#dcdcdc" stroke="#000" stroke-width="1.6" stroke-linejoin="miter"/><path d="M102.90 849.00V740.90M92.70 849.00H102.90M92.70 830.98H102.90M92.70 812.97H102.90M92.70 794.95H102.90M92.70 776.93H102.90M92.70 758.92H102.90M92.70 740.90H102.90" fill="none" stroke="#000" stroke-width="1.6" stroke-linecap="round"/><text x="78.70" y="849.00" transform="rotate(-90 78.70 849.00)" text-anchor="middle" class="ax">0</text><text x="78.70" y="812.97" transform="rotate(-90 78.70 812.97)" text-anchor="middle" class="ax">200</text><text x="78.70" y="758.92" transform="rotate(-90 78.70 758.92)" text-anchor="middle" class="ax">500</text><path d="M168.65 853.00H486.43M168.65 853.00V863.20M248.09 853.00V863.20M327.54 853.00V863.20M406.99 853.00V863.20M486.43 853.00V863.20" fill="none" stroke="#000" stroke-width="1.6" stroke-linecap="round"/><text x="168.65" y="890.20" text-anchor="middle" class="ax">0.80</text><text x="248.09" y="890.20" text-anchor="middle" class="ax">0.85</text><text x="327.54" y="890.20" text-anchor="middle" class="ax">0.90</text><text x="406.99" y="890.20" text-anchor="middle" class="ax">0.95</text><text x="486.43" y="890.20" text-anchor="middle" class="ax">1.00</text><text x="297.10" y="723.20" text-anchor="middle" class="ti">Challenge10−Kegg</text><text x="37.00" y="794.70" transform="rotate(-90 37.00 794.70)" text-anchor="middle" class="ax">Frequency</text><clipPath id="c7"><rect x="606.50" y="736.58" width="420" height="117.42"/></clipPath><path clip-path="url(#c7)" d="M634.30 849.00V848.46H637.34V849.00ZM637.34 849.00V848.46H640.39V849.00ZM640.39 849.00V848.46H643.43V849.00ZM643.43 849.00V848.28H646.47V849.00ZM646.47 849.00V848.28H649.52V849.00ZM649.52 849.00V848.28H652.56V849.00ZM652.56 849.00V848.10H655.60V849.00ZM655.60 849.00V848.10H658.65V849.00ZM658.65 849.00V847.92H661.69V849.00ZM661.69 849.00V847.92H664.73V849.00ZM664.73 849.00V847.38H667.78V849.00ZM667.78 849.00V847.02H670.82V849.00ZM670.82 849.00V847.02H673.86V849.00ZM673.86 849.00V846.84H676.91V849.00ZM676.91 849.00V845.22H679.95V849.00ZM679.95 849.00V843.60H682.99V849.00ZM682.99 849.00V846.66H686.03V849.00ZM686.03 849.00V841.61H689.08V849.00ZM689.08 849.00V841.97H692.12V849.00ZM692.12 849.00V846.30H695.16V849.00ZM695.16 849.00V839.99H698.21V849.00ZM698.21 849.00V843.60H701.25V849.00ZM701.25 849.00V846.30H704.29V849.00ZM704.29 849.00V844.68H707.34V849.00ZM707.34 849.00V845.76H710.38V849.00ZM710.38 849.00V846.84H713.42V849.00ZM713.42 849.00V847.92H716.47V849.00ZM716.47 849.00V845.22H719.51V849.00ZM719.51 849.00V842.87H722.55V849.00ZM722.55 849.00V845.04H725.60V849.00ZM725.60 849.00V844.32H728.64V849.00ZM728.64 849.00V843.60H731.68V849.00ZM731.68 849.00V841.25H734.73V849.00ZM734.73 849.00V843.96H737.77V849.00ZM737.77 849.00V839.63H740.81V849.00ZM740.81 849.00V841.61H743.86V849.00ZM743.86 849.00V838.19H746.90V849.00ZM746.90 849.00V836.21H749.94V849.00ZM749.94 849.00V838.55H752.99V849.00ZM752.99 849.00V842.33H756.03V849.00ZM756.03 849.00V837.29H759.07V849.00ZM759.07 849.00V837.29H762.12V849.00ZM762.12 849.00V833.33H765.16V849.00ZM765.16 849.00V835.31H768.20V849.00ZM768.20 849.00V835.31H771.24V849.00ZM771.24 849.00V833.87H774.29V849.00ZM774.29 849.00V814.95H777.33V849.00ZM777.33 849.00V830.62H780.37V849.00ZM780.37 849.00V830.26H783.42V849.00ZM783.42 849.00V831.16H786.46V849.00ZM786.46 849.00V830.26H789.50V849.00ZM789.50 849.00V828.64H792.55V849.00ZM792.55 849.00V829.36H795.59V849.00ZM795.59 849.00V824.32H798.63V849.00ZM798.63 849.00V820.89H801.68V849.00ZM801.68 849.00V819.63H804.72V849.00ZM804.72 849.00V822.52H807.76V849.00ZM807.76 849.00V814.95H810.81V849.00ZM810.81 849.00V821.25H813.85V849.00ZM813.85 849.00V816.57H816.89V849.00ZM816.89 849.00V809.54H819.94V849.00ZM819.94 849.00V814.95H822.98V849.00ZM822.98 849.00V806.84H826.02V849.00ZM826.02 849.00V811.53H829.07V849.00ZM829.07 849.00V761.62H832.11V849.00ZM832.11 849.00V806.66H835.15V849.00ZM835.15 849.00V801.80H838.20V849.00ZM838.20 849.00V807.20H841.24V849.00ZM841.24 849.00V799.81H844.28V849.00ZM844.28 849.00V800.54H847.33V849.00ZM847.33 849.00V800.17H850.37V849.00ZM850.37 849.00V799.81H853.41V849.00ZM853.41 849.00V792.79H856.46V849.00ZM856.46 849.00V791.35H859.50V849.00ZM859.50 849.00V800.54H862.54V849.00ZM862.54 849.00V794.41H865.58V849.00ZM865.58 849.00V789.54H868.63V849.00ZM868.63 849.00V786.84H871.67V849.00ZM871.67 849.00V786.48H874.71V849.00ZM874.71 849.00V797.11H877.76V849.00ZM877.76 849.00V798.37H880.80V849.00ZM880.80 849.00V808.82H883.84V849.00ZM883.84 849.00V771.35H886.89V849.00ZM886.89 849.00V817.83H889.93V849.00ZM889.93 849.00V821.25H892.97V849.00ZM892.97 849.00V822.34H896.02V849.00ZM896.02 849.00V828.28H899.06V849.00ZM899.06 849.00V823.24H902.10V849.00ZM902.10 849.00V829.54H905.15V849.00ZM905.15 849.00V804.86H908.19V849.00ZM908.19 849.00V829.90H911.23V849.00ZM911.23 849.00V837.29H914.28V849.00ZM914.28 849.00V832.97H917.32V849.00ZM917.32 849.00V837.65H920.36V849.00ZM920.36 849.00V831.52H923.41V849.00ZM923.41 849.00V829.90H926.45V849.00ZM926.45 849.00V836.57H929.49V849.00ZM929.49 849.00V843.23H932.54V849.00ZM932.54 849.00V843.96H935.58V849.00ZM935.58 849.00V842.87H938.62V849.00ZM938.62 849.00V843.23H941.67V849.00ZM941.67 849.00V844.68H944.71V849.00ZM944.71 849.00V847.02H947.75V849.00ZM947.75 849.00V848.64H950.79V849.00ZM950.79 849.00V848.64H953.84V849.00ZM953.84 849.00V848.64H956.88V849.00ZM956.88 849.00V848.64H959.92V849.00ZM959.92 849.00V848.64H962.97V849.00ZM962.97 849.00V848.64H966.01V849.00ZM966.01 849.00V848.64H969.05V849.00ZM969.05 849.00V848.64H972.10V849.00ZM972.10 849.00V848.64H975.14V849.00ZM975.14 849.00V848.64H978.18V849.00ZM978.18 849.00V848.64H981.23V849.00ZM981.23 849.00V848.64H984.27V849.00ZM984.27 849.00V848.64H987.31V849.00ZM987.31 849.00V848.64H990.36V849.00ZM990.36 849.00V848.64H993.40V849.00Z" fill="#dcdcdc" stroke="#000" stroke-width="1.6" stroke-linejoin="miter"/><path d="M619.40 849.00V740.90M609.20 849.00H619.40M609.20 830.98H619.40M609.20 812.97H619.40M609.20 794.95H619.40M609.20 776.93H619.40M609.20 758.92H619.40M609.20 740.90H619.40" fill="none" stroke="#000" stroke-width="1.6" stroke-linecap="round"/><text x="595.20" y="849.00" transform="rotate(-90 595.20 849.00)" text-anchor="middle" class="ax">0</text><text x="595.20" y="812.97" transform="rotate(-90 595.20 812.97)" text-anchor="middle" class="ax">200</text><text x="595.20" y="758.92" transform="rotate(-90 595.20 758.92)" text-anchor="middle" class="ax">500</text><path d="M689.08 853.00H993.40M689.08 853.00V863.20M765.16 853.00V863.20M841.24 853.00V863.20M917.32 853.00V863.20M993.40 853.00V863.20" fill="none" stroke="#000" stroke-width="1.6" stroke-linecap="round"/><text x="689.08" y="890.20" text-anchor="middle" class="ax">0.80</text><text x="765.16" y="890.20" text-anchor="middle" class="ax">0.85</text><text x="841.24" y="890.20" text-anchor="middle" class="ax">0.90</text><text x="917.32" y="890.20" text-anchor="middle" class="ax">0.95</text><text x="993.40" y="890.20" text-anchor="middle" class="ax">1.00</text><text x="813.60" y="723.20" text-anchor="middle" class="ti">Challenge11−Kegg</text><text x="553.50" y="794.70" transform="rotate(-90 553.50 794.70)" text-anchor="middle" class="ax">Frequency</text><clipPath id="c8"><rect x="90.00" y="960.18" width="420" height="117.42"/></clipPath><path clip-path="url(#c8)" d="M117.80 1072.60V1071.88H121.75V1072.60ZM121.75 1072.60V1071.88H125.69V1072.60ZM125.69 1072.60V1071.70H129.64V1072.60ZM129.64 1072.60V1071.34H133.58V1072.60ZM133.58 1072.60V1071.34H137.53V1072.60ZM137.53 1072.60V1071.34H141.48V1072.60ZM141.48 1072.60V1069.54H145.42V1072.60ZM145.42 1072.60V1070.80H149.37V1072.60ZM149.37 1072.60V1070.80H153.32V1072.60ZM153.32 1072.60V1069.72H157.26V1072.60ZM157.26 1072.60V1068.28H161.21V1072.60ZM161.21 1072.60V1068.28H165.15V1072.60ZM165.15 1072.60V1067.01H169.10V1072.60ZM169.10 1072.60V1066.11H173.05V1072.60ZM173.05 1072.60V1068.28H176.99V1072.60ZM176.99 1072.60V1063.59H180.94V1072.60ZM180.94 1072.60V1063.77H184.88V1072.60ZM184.88 1072.60V1061.43H188.83V1072.60ZM188.83 1072.60V1049.36H192.78V1072.60ZM192.78 1072.60V1061.07H196.72V1072.60ZM196.72 1072.60V1057.65H200.67V1072.60ZM200.67 1072.60V1049.36H204.62V1072.60ZM204.62 1072.60V1046.12H208.56V1072.60ZM208.56 1072.60V1045.03H212.51V1072.60ZM212.51 1072.60V1046.12H216.45V1072.60ZM216.45 1072.60V1030.62H220.40V1072.60ZM220.40 1072.60V1039.99H224.35V1072.60ZM224.35 1072.60V1035.67H228.29V1072.60ZM228.29 1072.60V1034.58H232.24V1072.60ZM232.24 1072.60V1028.28H236.18V1072.60ZM236.18 1072.60V1030.62H240.13V1072.60ZM240.13 1072.60V1020.53H244.08V1072.60ZM244.08 1072.60V1022.33H248.02V1072.60ZM248.02 1072.60V1015.13H251.97V1072.60ZM251.97 1072.60V1018.55H255.92V1072.60ZM255.92 1072.60V1010.62H259.86V1072.60ZM259.86 1072.60V940.36H263.81V1072.60ZM263.81 1072.60V1008.64H267.75V1072.60ZM267.75 1072.60V1005.58H271.70V1072.60ZM271.70 1072.60V1017.47H275.65V1072.60ZM275.65 1072.60V1009.90H279.59V1072.60ZM279.59 1072.60V1001.61H283.54V1072.60ZM283.54 1072.60V985.40H287.48V1072.60ZM287.48 1072.60V1005.76H291.43V1072.60ZM291.43 1072.60V1010.62H295.38V1072.60ZM295.38 1072.60V1016.93H299.32V1072.60ZM299.32 1072.60V1016.21H303.27V1072.60ZM303.27 1072.60V1010.62H307.22V1072.60ZM307.22 1072.60V1023.23H311.16V1072.60ZM311.16 1072.60V1019.81H315.11V1072.60ZM315.11 1072.60V1021.61H319.05V1072.60ZM319.05 1072.60V1024.32H323.00V1072.60ZM323.00 1072.60V1031.52H326.95V1072.60ZM326.95 1072.60V1036.93H330.89V1072.60ZM330.89 1072.60V1004.50H334.84V1072.60ZM334.84 1072.60V1042.33H338.78V1072.60ZM338.78 1072.60V1051.70H342.73V1072.60ZM342.73 1072.60V1052.42H346.68V1072.60ZM346.68 1072.60V1051.34H350.62V1072.60ZM350.62 1072.60V1054.76H354.57V1072.60ZM354.57 1072.60V1059.45H358.52V1072.60ZM358.52 1072.60V1062.33H362.46V1072.60ZM362.46 1072.60V1061.97H366.41V1072.60ZM366.41 1072.60V1065.39H370.35V1072.60ZM370.35 1072.60V1064.67H374.30V1072.60ZM374.30 1072.60V1066.65H378.25V1072.60ZM378.25 1072.60V1068.28H382.19V1072.60ZM382.19 1072.60V1068.28H386.14V1072.60ZM386.14 1072.60V1068.82H390.08V1072.60ZM390.08 1072.60V1069.54H394.03V1072.60ZM394.03 1072.60V1069.54H397.98V1072.60ZM397.98 1072.60V1069.54H401.92V1072.60ZM401.92 1072.60V1067.01H405.87V1072.60ZM405.87 1072.60V1071.70H409.82V1072.60ZM409.82 1072.60V1069.54H413.76V1072.60ZM413.76 1072.60V1070.80H417.71V1072.60ZM417.71 1072.60V1070.80H421.65V1072.60ZM421.65 1072.60V1069.54H425.60V1072.60ZM425.60 1072.60V1069.54H429.55V1072.60ZM429.55 1072.60V1072.06H433.49V1072.60ZM433.49 1072.60V1072.06H437.44V1072.60ZM437.44 1072.60V1072.06H441.38V1072.60ZM441.38 1072.60V1072.06H445.33V1072.60ZM445.33 1072.60V1072.06H449.28V1072.60ZM449.28 1072.60V1072.06H453.22V1072.60ZM453.22 1072.60V1072.06H457.17V1072.60ZM457.17 1072.60V1072.06H461.12V1072.60ZM461.12 1072.60V1072.06H465.06V1072.60ZM465.06 1072.60V1072.06H469.01V1072.60ZM469.01 1072.60V1072.06H472.95V1072.60ZM472.95 1072.60V1072.06H476.90V1072.60Z" fill="#dcdcdc" stroke="#000" stroke-width="1.6" stroke-linejoin="miter"/><path d="M102.90 1072.60V964.50M92.70 1072.60H102.90M92.70 1054.58H102.90M92.70 1036.57H102.90M92.70 1018.55H102.90M92.70 1000.53H102.90M92.70 982.52H102.90M92.70 964.50H102.90" fill="none" stroke="#000" stroke-width="1.6" stroke-linecap="round"/><text x="78.70" y="1072.60" transform="rotate(-90 78.70 1072.60)" text-anchor="middle" class="ax">0</text><text x="78.70" y="1036.57" transform="rotate(-90 78.70 1036.57)" text-anchor="middle" class="ax">200</text><text x="78.70" y="982.52" transform="rotate(-90 78.70 982.52)" text-anchor="middle" class="ax">500</text><path d="M149.37 1076.60H445.33M149.37 1076.60V1086.80M248.02 1076.60V1086.80M346.68 1076.60V1086.80M445.33 1076.60V1086.80" fill="none" stroke="#000" stroke-width="1.6" stroke-linecap="round"/><text x="149.37" y="1113.80" text-anchor="middle" class="ax">0.80</text><text x="248.02" y="1113.80" text-anchor="middle" class="ax">0.85</text><text x="346.68" y="1113.80" text-anchor="middle" class="ax">0.90</text><text x="445.33" y="1113.80" text-anchor="middle" class="ax">0.95</text><text x="297.10" y="946.80" text-anchor="middle" class="ti">Challenge12−Kegg</text><text x="37.00" y="1018.30" transform="rotate(-90 37.00 1018.30)" text-anchor="middle" class="ax">Frequency</text><clipPath id="c9"><rect x="606.50" y="960.18" width="420" height="117.42"/></clipPath><path clip-path="url(#c9)" d="M634.30 1072.60V1071.88H637.59V1072.60ZM637.59 1072.60V1071.88H640.89V1072.60ZM640.89 1072.60V1071.88H644.18V1072.60ZM644.18 1072.60V1071.88H647.48V1072.60ZM647.48 1072.60V1071.88H650.77V1072.60ZM650.77 1072.60V1071.88H654.07V1072.60ZM654.07 1072.60V1071.52H657.36V1072.60ZM657.36 1072.60V1071.52H660.66V1072.60ZM660.66 1072.60V1071.52H663.95V1072.60ZM663.95 1072.60V1071.34H667.24V1072.60ZM667.24 1072.60V1071.34H670.54V1072.60ZM670.54 1072.60V1071.34H673.83V1072.60ZM673.83 1072.60V1070.62H677.13V1072.60ZM677.13 1072.60V1066.11H680.42V1072.60ZM680.42 1072.60V1070.08H683.72V1072.60ZM683.72 1072.60V1065.39H687.01V1072.60ZM687.01 1072.60V1063.77H690.31V1072.60ZM690.31 1072.60V1068.46H693.60V1072.60ZM693.60 1072.60V1062.69H696.90V1072.60ZM696.90 1072.60V1065.39H700.19V1072.60ZM700.19 1072.60V1068.10H703.48V1072.60ZM703.48 1072.60V1068.28H706.78V1072.60ZM706.78 1072.60V1068.46H710.07V1072.60ZM710.07 1072.60V1068.46H713.37V1072.60ZM713.37 1072.60V1070.62H716.66V1072.60ZM716.66 1072.60V1070.08H719.96V1072.60ZM719.96 1072.60V1069.72H723.25V1072.60ZM723.25 1072.60V1070.62H726.55V1072.60ZM726.55 1072.60V1068.46H729.84V1072.60ZM729.84 1072.60V1066.65H733.13V1072.60ZM733.13 1072.60V1065.93H736.43V1072.60ZM736.43 1072.60V1059.45H739.72V1072.60ZM739.72 1072.60V1062.69H743.02V1072.60ZM743.02 1072.60V1063.77H746.31V1072.60ZM746.31 1072.60V1057.65H749.61V1072.60ZM749.61 1072.60V1061.43H752.90V1072.60ZM752.90 1072.60V1059.99H756.20V1072.60ZM756.20 1072.60V1057.65H759.49V1072.60ZM759.49 1072.60V1053.32H762.79V1072.60ZM762.79 1072.60V1057.65H766.08V1072.60ZM766.08 1072.60V1054.94H769.37V1072.60ZM769.37 1072.60V1053.68H772.67V1072.60ZM772.67 1072.60V1055.48H775.96V1072.60ZM775.96 1072.60V1054.40H779.26V1072.60ZM779.26 1072.60V1050.08H782.55V1072.60ZM782.55 1072.60V1053.68H785.85V1072.60ZM785.85 1072.60V1054.04H789.14V1072.60ZM789.14 1072.60V1055.30H792.44V1072.60ZM792.44 1072.60V1050.62H795.73V1072.60ZM795.73 1072.60V1026.66H799.02V1072.60ZM799.02 1072.60V1049.72H802.32V1072.60ZM802.32 1072.60V1047.02H805.61V1072.60ZM805.61 1072.60V1049.36H808.91V1072.60ZM808.91 1072.60V1043.95H812.20V1072.60ZM812.20 1072.60V1049.00H815.50V1072.60ZM815.50 1072.60V1042.33H818.79V1072.60ZM818.79 1072.60V1040.35H822.09V1072.60ZM822.09 1072.60V1045.39H825.38V1072.60ZM825.38 1072.60V1037.65H828.68V1072.60ZM828.68 1072.60V1038.01H831.97V1072.60ZM831.97 1072.60V1041.07H835.26V1072.60ZM835.26 1072.60V1037.65H838.56V1072.60ZM838.56 1072.60V1038.55H841.85V1072.60ZM841.85 1072.60V1029.36H845.15V1072.60ZM845.15 1072.60V1028.64H848.44V1072.60ZM848.44 1072.60V1019.27H851.74V1072.60ZM851.74 1072.60V1023.41H855.03V1072.60ZM855.03 1072.60V972.79H858.33V1072.60ZM858.33 1072.60V1019.27H861.62V1072.60ZM861.62 1072.60V1019.81H864.91V1072.60ZM864.91 1072.60V1023.23H868.21V1072.60ZM868.21 1072.60V1019.99H871.50V1072.60ZM871.50 1072.60V1023.41H874.80V1072.60ZM874.80 1072.60V1019.27H878.09V1072.60ZM878.09 1072.60V1027.56H881.39V1072.60ZM881.39 1072.60V1024.68H884.68V1072.60ZM884.68 1072.60V1031.70H887.98V1072.60ZM887.98 1072.60V1027.38H891.27V1072.60ZM891.27 1072.60V1030.62H894.57V1072.60ZM894.57 1072.60V1042.33H897.86V1072.60ZM897.86 1072.60V1027.92H901.15V1072.60ZM901.15 1072.60V1044.31H904.45V1072.60ZM904.45 1072.60V1040.89H907.74V1072.60ZM907.74 1072.60V1038.37H911.04V1072.60ZM911.04 1072.60V1050.08H914.33V1072.60ZM914.33 1072.60V1021.61H917.63V1072.60ZM917.63 1072.60V1050.26H920.92V1072.60ZM920.92 1072.60V1053.14H924.22V1072.60ZM924.22 1072.60V1052.06H927.51V1072.60ZM927.51 1072.60V1055.30H930.80V1072.60ZM930.80 1072.60V1056.38H934.10V1072.60ZM934.10 1072.60V1050.80H937.39V1072.60ZM937.39 1072.60V1056.02H940.69V1072.60ZM940.69 1072.60V1058.91H943.98V1072.60ZM943.98 1072.60V1063.59H947.28V1072.60ZM947.28 1072.60V1063.77H950.57V1072.60ZM950.57 1072.60V1058.91H953.87V1072.60ZM953.87 1072.60V1039.99H957.16V1072.60ZM957.16 1072.60V1065.39H960.46V1072.60ZM960.46 1072.60V1068.10H963.75V1072.60ZM963.75 1072.60V1068.28H967.04V1072.60ZM967.04 1072.60V1069.72H970.34V1072.60ZM970.34 1072.60V1063.59H973.63V1072.60ZM973.63 1072.60V1066.47H976.93V1072.60ZM976.93 1072.60V1067.74H980.22V1072.60ZM980.22 1072.60V1070.62H983.52V1072.60ZM983.52 1072.60V1071.34H986.81V1072.60ZM986.81 1072.60V1071.70H990.11V1072.60ZM990.11 1072.60V1071.70H993.40V1072.60Z" fill="#dcdcdc" stroke="#000" stroke-width="1.6" stroke-linejoin="miter"/><path d="M619.40 1072.60V964.50M609.20 1072.60H619.40M609.20 1054.58H619.40M609.20 1036.57H619.40M609.20 1018.55H619.40M609.20 1000.53H619.40M609.20 982.52H619.40M609.20 964.50H619.40" fill="none" stroke="#000" stroke-width="1.6" stroke-linecap="round"/><text x="595.20" y="1072.60" transform="rotate(-90 595.20 1072.60)" text-anchor="middle" class="ax">0</text><text x="595.20" y="1036.57" transform="rotate(-90 595.20 1036.57)" text-anchor="middle" class="ax">200</text><text x="595.20" y="982.52" transform="rotate(-90 595.20 982.52)" text-anchor="middle" class="ax">500</text><path d="M621.12 1076.60H950.57M621.12 1076.60V1086.80M703.48 1076.60V1086.80M785.85 1076.60V1086.80M868.21 1076.60V1086.80M950.57 1076.60V1086.80" fill="none" stroke="#000" stroke-width="1.6" stroke-linecap="round"/><text x="621.12" y="1113.80" text-anchor="middle" class="ax">0.75</text><text x="703.48" y="1113.80" text-anchor="middle" class="ax">0.80</text><text x="785.85" y="1113.80" text-anchor="middle" class="ax">0.85</text><text x="868.21" y="1113.80" text-anchor="middle" class="ax">0.90</text><text x="950.57" y="1113.80" text-anchor="middle" class="ax">0.95</text><text x="813.60" y="946.80" text-anchor="middle" class="ti">Challenge13−Kegg</text><text x="553.50" y="1018.30" transform="rotate(-90 553.50 1018.30)" text-anchor="middle" class="ax">Frequency</text><clipPath id="c10"><rect x="90.00" y="1183.78" width="420" height="117.42"/></clipPath><path clip-path="url(#c10)" d="M117.80 1296.20V1295.84H120.65V1296.20ZM120.65 1296.20V1295.84H123.50V1296.20ZM123.50 1296.20V1295.84H126.35V1296.20ZM126.35 1296.20V1295.84H129.20V1296.20ZM129.20 1296.20V1295.84H132.05V1296.20ZM132.05 1296.20V1295.84H134.90V1296.20ZM134.90 1296.20V1295.84H137.75V1296.20ZM137.75 1296.20V1295.84H140.60V1296.20ZM140.60 1296.20V1295.84H143.45V1296.20ZM143.45 1296.20V1295.84H146.30V1296.20ZM146.30 1296.20V1295.84H149.15V1296.20ZM149.15 1296.20V1295.84H152.00V1296.20ZM152.00 1296.20V1295.84H154.85V1296.20ZM154.85 1296.20V1295.84H157.70V1296.20ZM157.70 1296.20V1295.84H160.55V1296.20ZM160.55 1296.20V1295.84H163.40V1296.20ZM163.40 1296.20V1295.84H166.25V1296.20ZM166.25 1296.20V1294.76H169.10V1296.20ZM169.10 1296.20V1293.68H171.95V1296.20ZM171.95 1296.20V1293.68H174.80V1296.20ZM174.80 1296.20V1292.06H177.65V1296.20ZM177.65 1296.20V1291.70H180.50V1296.20ZM180.50 1296.20V1289.89H183.35V1296.20ZM183.35 1296.20V1294.04H186.20V1296.20ZM186.20 1296.20V1287.73H189.05V1296.20ZM189.05 1296.20V1288.27H191.90V1296.20ZM191.90 1296.20V1292.24H194.75V1296.20ZM194.75 1296.20V1286.29H197.60V1296.20ZM197.60 1296.20V1288.99H200.45V1296.20ZM200.45 1296.20V1290.07H203.30V1296.20ZM203.30 1296.20V1290.98H206.15V1296.20ZM206.15 1296.20V1291.34H209.00V1296.20ZM209.00 1296.20V1291.34H211.85V1296.20ZM211.85 1296.20V1293.32H214.70V1296.20ZM214.70 1296.20V1288.99H217.55V1296.20ZM217.55 1296.20V1288.99H220.40V1296.20ZM220.40 1296.20V1277.28H223.25V1296.20ZM223.25 1296.20V1285.75H226.10V1296.20ZM226.10 1296.20V1283.41H228.95V1296.20ZM228.95 1296.20V1278.18H231.80V1296.20ZM231.80 1296.20V1277.64H234.65V1296.20ZM234.65 1296.20V1279.99H237.50V1296.20ZM237.50 1296.20V1281.25H240.35V1296.20ZM240.35 1296.20V1276.38H243.20V1296.20ZM243.20 1296.20V1279.99H246.05V1296.20ZM246.05 1296.20V1282.33H248.90V1296.20ZM248.90 1296.20V1276.56H251.75V1296.20ZM251.75 1296.20V1274.04H254.60V1296.20ZM254.60 1296.20V1277.64H257.45V1296.20ZM257.45 1296.20V1273.32H260.30V1296.20ZM260.30 1296.20V1272.60H263.15V1296.20ZM263.15 1296.20V1267.91H266.00V1296.20ZM266.00 1296.20V1272.24H268.85V1296.20ZM268.85 1296.20V1265.57H271.70V1296.20ZM271.70 1296.20V1226.48H274.55V1296.20ZM274.55 1296.20V1267.91H277.40V1296.20ZM277.40 1296.20V1252.24H280.25V1296.20ZM280.25 1296.20V1255.30H283.10V1296.20ZM283.10 1296.20V1257.10H285.95V1296.20ZM285.95 1296.20V1258.91H288.80V1296.20ZM288.80 1296.20V1243.59H291.65V1296.20ZM291.65 1296.20V1252.24H294.50V1296.20ZM294.50 1296.20V1258.91H297.35V1296.20ZM297.35 1296.20V1255.84H300.20V1296.20ZM300.20 1296.20V1251.88H303.05V1296.20ZM303.05 1296.20V1253.14H305.90V1296.20ZM305.90 1296.20V1255.48H308.75V1296.20ZM308.75 1296.20V1251.16H311.60V1296.20ZM311.60 1296.20V1245.39H314.45V1296.20ZM314.45 1296.20V1245.39H317.30V1296.20ZM317.30 1296.20V1252.60H320.15V1296.20ZM320.15 1296.20V1249.18H323.00V1296.20ZM323.00 1296.20V1208.64H325.85V1296.20ZM325.85 1296.20V1252.96H328.70V1296.20ZM328.70 1296.20V1257.64H331.55V1296.20ZM331.55 1296.20V1259.63H334.40V1296.20ZM334.40 1296.20V1257.28H337.25V1296.20ZM337.25 1296.20V1263.59H340.10V1296.20ZM340.10 1296.20V1263.59H342.95V1296.20ZM342.95 1296.20V1258.55H345.80V1296.20ZM345.80 1296.20V1262.87H348.65V1296.20ZM348.65 1296.20V1268.99H351.50V1296.20ZM351.50 1296.20V1257.64H354.35V1296.20ZM354.35 1296.20V1261.25H357.20V1296.20ZM357.20 1296.20V1271.34H360.05V1296.20ZM360.05 1296.20V1268.99H362.90V1296.20ZM362.90 1296.20V1267.91H365.75V1296.20ZM365.75 1296.20V1269.54H368.60V1296.20ZM368.60 1296.20V1276.02H371.45V1296.20ZM371.45 1296.20V1273.68H374.30V1296.20ZM374.30 1296.20V1258.18H377.15V1296.20ZM377.15 1296.20V1282.33H380.00V1296.20ZM380.00 1296.20V1278.18H382.85V1296.20ZM382.85 1296.20V1279.26H385.70V1296.20ZM385.70 1296.20V1284.67H388.55V1296.20ZM388.55 1296.20V1284.31H391.40V1296.20ZM391.40 1296.20V1285.93H394.25V1296.20ZM394.25 1296.20V1285.03H397.10V1296.20ZM397.10 1296.20V1289.35H399.95V1296.20ZM399.95 1296.20V1282.69H402.80V1296.20ZM402.80 1296.20V1288.63H405.65V1296.20ZM405.65 1296.20V1291.34H408.50V1296.20ZM408.50 1296.20V1263.59H411.35V1296.20ZM411.35 1296.20V1286.29H414.20V1296.20ZM414.20 1296.20V1294.04H417.05V1296.20ZM417.05 1296.20V1290.61H419.90V1296.20ZM419.90 1296.20V1293.68H422.75V1296.20ZM422.75 1296.20V1292.06H425.60V1296.20ZM425.60 1296.20V1294.40H428.45V1296.20ZM428.45 1296.20V1293.68H431.30V1296.20ZM431.30 1296.20V1294.76H434.15V1296.20ZM434.15 1296.20V1295.12H437.00V1296.20ZM437.00 1296.20V1295.12H439.85V1296.20ZM439.85 1296.20V1295.30H442.70V1296.20ZM442.70 1296.20V1295.30H445.55V1296.20ZM445.55 1296.20V1295.30H448.40V1296.20ZM448.40 1296.20V1295.84H451.25V1296.20ZM451.25 1296.20V1295.84H454.10V1296.20ZM454.10 1296.20V1295.84H456.95V1296.20ZM456.95 1296.20V1295.84H459.80V1296.20ZM459.80 1296.20V1295.84H462.65V1296.20ZM462.65 1296.20V1295.84H465.50V1296.20ZM465.50 1296.20V1295.84H468.35V1296.20ZM468.35 1296.20V1295.84H471.20V1296.20ZM471.20 1296.20V1295.84H474.05V1296.20ZM474.05 1296.20V1295.84H476.90V1296.20Z" fill="#dcdcdc" stroke="#000" stroke-width="1.6" stroke-linejoin="miter"/><path d="M102.90 1296.20V1188.10M92.70 1296.20H102.90M92.70 1278.18H102.90M92.70 1260.17H102.90M92.70 1242.15H102.90M92.70 1224.13H102.90M92.70 1206.12H102.90M92.70 1188.10H102.90" fill="none" stroke="#000" stroke-width="1.6" stroke-linecap="round"/><text x="78.70" y="1296.20" transform="rotate(-90 78.70 1296.20)" text-anchor="middle" class="ax">0</text><text x="78.70" y="1260.17" transform="rotate(-90 78.70 1260.17)" text-anchor="middle" class="ax">200</text><text x="78.70" y="1206.12" transform="rotate(-90 78.70 1206.12)" text-anchor="middle" class="ax">500</text><path d="M120.65 1300.20H476.90M120.65 1300.20V1310.40M191.90 1300.20V1310.40M263.15 1300.20V1310.40M334.40 1300.20V1310.40M405.65 1300.20V1310.40M476.90 1300.20V1310.40" fill="none" stroke="#000" stroke-width="1.6" stroke-linecap="round"/><text x="120.65" y="1337.40" text-anchor="middle" class="ax">0.75</text><text x="191.90" y="1337.40" text-anchor="middle" class="ax">0.80</text><text x="263.15" y="1337.40" text-anchor="middle" class="ax">0.85</text><text x="334.40" y="1337.40" text-anchor="middle" class="ax">0.90</text><text x="405.65" y="1337.40" text-anchor="middle" class="ax">0.95</text><text x="476.90" y="1337.40" text-anchor="middle" class="ax">1.00</text><text x="297.10" y="1170.40" text-anchor="middle" class="ti">Challenge14−Kegg</text><text x="37.00" y="1241.90" transform="rotate(-90 37.00 1241.90)" text-anchor="middle" class="ax">Frequency</text><clipPath id="c11"><rect x="606.50" y="1183.78" width="420" height="117.42"/></clipPath><path clip-path="url(#c11)" d="M634.30 1296.20V1295.66H638.08V1296.20ZM638.08 1296.20V1295.48H641.86V1296.20ZM641.86 1296.20V1295.30H645.64V1296.20ZM645.64 1296.20V1295.30H649.42V1296.20ZM649.42 1296.20V1295.12H653.20V1296.20ZM653.20 1296.20V1295.48H656.98V1296.20ZM656.98 1296.20V1295.48H660.76V1296.20ZM660.76 1296.20V1295.30H664.54V1296.20ZM664.54 1296.20V1295.30H668.32V1296.20ZM668.32 1296.20V1295.30H672.10V1296.20ZM672.10 1296.20V1295.12H675.88V1296.20ZM675.88 1296.20V1295.12H679.66V1296.20ZM679.66 1296.20V1295.12H683.44V1296.20ZM683.44 1296.20V1287.73H687.22V1296.20ZM687.22 1296.20V1291.70H691.00V1296.20ZM691.00 1296.20V1287.01H694.78V1296.20ZM694.78 1296.20V1287.73H698.56V1296.20ZM698.56 1296.20V1285.39H702.34V1296.20ZM702.34 1296.20V1281.07H706.12V1296.20ZM706.12 1296.20V1275.84H709.90V1296.20ZM709.90 1296.20V1274.58H713.68V1296.20ZM713.68 1296.20V1271.70H717.46V1296.20ZM717.46 1296.20V1272.96H721.24V1296.20ZM721.24 1296.20V1274.76H725.02V1296.20ZM725.02 1296.20V1274.04H728.80V1296.20ZM728.80 1296.20V1261.79H732.58V1296.20ZM732.58 1296.20V1271.34H736.36V1296.20ZM736.36 1296.20V1263.05H740.14V1296.20ZM740.14 1296.20V1256.92H743.92V1296.20ZM743.92 1296.20V1264.31H747.70V1296.20ZM747.70 1296.20V1263.05H751.48V1296.20ZM751.48 1296.20V1221.43H755.26V1296.20ZM755.26 1296.20V1254.58H759.04V1296.20ZM759.04 1296.20V1259.99H762.82V1296.20ZM762.82 1296.20V1248.28H766.60V1296.20ZM766.60 1296.20V1245.93H770.38V1296.20ZM770.38 1296.20V1241.97H774.16V1296.20ZM774.16 1296.20V1245.39H777.94V1296.20ZM777.94 1296.20V1236.56H781.72V1296.20ZM781.72 1296.20V1242.87H785.50V1296.20ZM785.50 1296.20V1243.59H789.28V1296.20ZM789.28 1296.20V1238.19H793.06V1296.20ZM793.06 1296.20V1241.43H796.84V1296.20ZM796.84 1296.20V1239.45H800.62V1296.20ZM800.62 1296.20V1239.45H804.40V1296.20ZM804.40 1296.20V1240.71H808.18V1296.20ZM808.18 1296.20V1240.89H811.96V1296.20ZM811.96 1296.20V1238.19H815.74V1296.20ZM815.74 1296.20V1241.25H819.52V1296.20ZM819.52 1296.20V1164.32H823.30V1296.20ZM823.30 1296.20V1239.81H827.08V1296.20ZM827.08 1296.20V1237.47H830.86V1296.20ZM830.86 1296.20V1237.11H834.64V1296.20ZM834.64 1296.20V1245.39H838.42V1296.20ZM838.42 1296.20V1243.59H842.20V1296.20ZM842.20 1296.20V1251.52H845.98V1296.20ZM845.98 1296.20V1260.53H849.76V1296.20ZM849.76 1296.20V1261.25H853.54V1296.20ZM853.54 1296.20V1262.51H857.32V1296.20ZM857.32 1296.20V1264.31H861.10V1296.20ZM861.10 1296.20V1274.58H864.88V1296.20ZM864.88 1296.20V1276.02H868.66V1296.20ZM868.66 1296.20V1281.61H872.44V1296.20ZM872.44 1296.20V1279.26H876.22V1296.20ZM876.22 1296.20V1279.62H880.00V1296.20ZM880.00 1296.20V1286.65H883.78V1296.20ZM883.78 1296.20V1288.99H887.56V1296.20ZM887.56 1296.20V1281.61H891.34V1296.20ZM891.34 1296.20V1292.42H895.12V1296.20ZM895.12 1296.20V1293.32H898.90V1296.20ZM898.90 1296.20V1292.42H902.68V1296.20ZM902.68 1296.20V1293.68H906.46V1296.20ZM906.46 1296.20V1294.58H910.24V1296.20ZM910.24 1296.20V1294.94H914.02V1296.20ZM914.02 1296.20V1294.94H917.80V1296.20ZM917.80 1296.20V1295.12H921.58V1296.20ZM921.58 1296.20V1295.12H925.36V1296.20ZM925.36 1296.20V1295.66H929.14V1296.20ZM929.14 1296.20V1295.66H932.92V1296.20ZM932.92 1296.20V1295.66H936.70V1296.20ZM936.70 1296.20V1295.66H940.48V1296.20ZM940.48 1296.20V1295.66H944.26V1296.20ZM944.26 1296.20V1295.66H948.04V1296.20ZM948.04 1296.20V1295.66H951.82V1296.20ZM951.82 1296.20V1295.66H955.60V1296.20ZM955.60 1296.20V1295.66H959.38V1296.20ZM959.38 1296.20V1295.66H963.16V1296.20ZM963.16 1296.20V1295.66H966.94V1296.20ZM966.94 1296.20V1295.66H970.72V1296.20ZM970.72 1296.20V1295.66H974.50V1296.20ZM974.50 1296.20V1295.66H978.28V1296.20ZM978.28 1296.20V1295.66H982.06V1296.20ZM982.06 1296.20V1295.66H985.84V1296.20ZM985.84 1296.20V1295.66H989.62V1296.20ZM989.62 1296.20V1295.66H993.40V1296.20Z" fill="#dcdcdc" stroke="#000" stroke-width="1.6" stroke-linejoin="miter"/><path d="M619.40 1296.20V1188.10M609.20 1296.20H619.40M609.20 1278.18H619.40M609.20 1260.17H619.40M609.20 1242.15H619.40M609.20 1224.13H619.40M609.20 1206.12H619.40M609.20 1188.10H619.40" fill="none" stroke="#000" stroke-width="1.6" stroke-linecap="round"/><text x="595.20" y="1296.20" transform="rotate(-90 595.20 1296.20)" text-anchor="middle" class="ax">0</text><text x="595.20" y="1260.17" transform="rotate(-90 595.20 1260.17)" text-anchor="middle" class="ax">200</text><text x="595.20" y="1206.12" transform="rotate(-90 595.20 1206.12)" text-anchor="middle" class="ax">500</text><path d="M645.64 1300.20H929.14M645.64 1300.20V1310.40M740.14 1300.20V1310.40M834.64 1300.20V1310.40M929.14 1300.20V1310.40" fill="none" stroke="#000" stroke-width="1.6" stroke-linecap="round"/><text x="645.64" y="1337.40" text-anchor="middle" class="ax">0.80</text><text x="740.14" y="1337.40" text-anchor="middle" class="ax">0.85</text><text x="834.64" y="1337.40" text-anchor="middle" class="ax">0.90</text><text x="929.14" y="1337.40" text-anchor="middle" class="ax">0.95</text><text x="813.60" y="1170.40" text-anchor="middle" class="ti">Challenge15−Kegg</text><text x="553.50" y="1241.90" transform="rotate(-90 553.50 1241.90)" text-anchor="middle" class="ax">Frequency</text><clipPath id="c12"><rect x="90.00" y="1407.38" width="420" height="117.42"/></clipPath><path clip-path="url(#c12)" d="M117.80 1519.80V1519.80H120.36V1519.80H122.93V1519.26H125.49V1519.80H128.06V1519.80H130.62V1519.26H133.19V1519.80H135.75V1519.80H138.32V1518.18H140.88V1518.18H143.45V1514.94H146.01V1517.28H148.58V1517.28H151.14V1517.28H153.71V1513.31H156.27V1513.31H158.84V1514.03H161.41V1514.03H163.97V1514.03H166.53V1511.69H169.10V1511.69H171.66V1507.73H174.23V1507.73H176.79V1503.59H179.36V1503.59H181.93V1498.72H184.49V1498.72H187.06V1492.77H189.62V1492.77H192.19V1484.85H194.75V1484.85H197.31V1480.70H199.88V1480.70H202.44V1448.99H205.01V1470.25H207.57V1470.25H210.14V1470.25H212.70V1470.25H215.27V1467.01H217.83V1467.01H220.40V1458.90H222.96V1458.90H225.53V1458.90H228.09V1460.89H230.66V1460.89H233.22V1465.03H235.79V1465.03H238.35V1465.03H240.92V1449.90H243.49V1449.90H246.05V1446.47H248.62V1440.89H251.18V1450.80H253.75V1450.80H256.31V1452.42H258.88V1452.42H261.44V1455.48H264.00V1455.48H266.57V1455.48H269.13V1444.31H271.70V1450.44H274.26V1450.44H276.83V1452.78H279.39V1452.78H281.96V1452.78H284.52V1450.08H287.09V1454.04H289.65V1454.04H292.22V1461.61H294.78V1461.61H297.35V1461.61H299.91V1466.47H302.48V1466.47H305.05V1473.86H307.61V1473.86H310.18V1473.86H312.74V1468.63H315.31V1477.28H317.87V1477.28H320.44V1480.70H323.00V1480.70H325.56V1481.42H328.13V1481.42H330.69V1485.57H333.26V1485.57H335.82V1490.43H338.39V1490.43H340.95V1491.33H343.52V1492.77H346.08V1492.77H348.65V1495.84H351.21V1495.84H353.78V1495.84H356.34V1495.30H358.91V1500.70H361.47V1500.70H364.04V1504.67H366.61V1504.67H369.17V1505.57H371.74V1505.57H374.30V1505.57H376.87V1504.31H379.43V1504.31H382.00V1504.31H384.56V1507.37H387.12V1508.09H389.69V1508.09H392.25V1512.59H394.82V1512.59H397.38V1512.59H399.95V1512.23H402.51V1515.12H405.08V1515.12H407.64V1516.74H410.21V1516.74H412.77V1516.74H415.34V1515.30H417.91V1516.74H420.47V1516.74H423.04V1517.82H425.60V1517.82H428.17V1517.82H430.73V1517.46H433.30V1517.46H435.86V1518.18H438.43V1518.18H440.99V1518.90H443.56V1518.90H446.12V1519.08H448.69V1519.08H451.25V1519.26H453.81V1519.26H456.38V1519.26H458.94V1519.08H461.51V1519.26H464.07V1519.26H466.64V1519.26H469.20V1519.26H471.77V1519.44H474.33V1519.44H476.90V1519.80Z" fill="#a6a6a6" stroke="none"/><path clip-path="url(#c12)" d="M117.80 1519.80V1519.80H120.36V1519.80ZM120.36 1519.80V1519.80H122.93V1519.80ZM122.93 1519.80V1519.26H125.49V1519.80ZM125.50 1519.80V1519.80H128.06V1519.80ZM128.06 1519.80V1519.80H130.62V1519.80ZM130.62 1519.80V1519.26H133.19V1519.80ZM133.19 1519.80V1519.80H135.75V1519.80ZM135.75 1519.80V1519.80H138.32V1519.80ZM138.32 1519.80V1518.18H140.88V1519.80ZM140.88 1519.80V1519.80H143.45V1519.80ZM143.45 1519.80V1514.94H146.01V1519.80ZM146.01 1519.80V1519.80H148.58V1519.80ZM148.58 1519.80V1517.28H151.14V1519.80ZM151.14 1519.80V1519.80H153.71V1519.80ZM153.71 1519.80V1513.31H156.27V1519.80ZM156.28 1519.80V1513.31H158.84V1519.80ZM158.84 1519.80V1519.80H161.41V1519.80ZM161.41 1519.80V1514.03H163.97V1519.80ZM163.97 1519.80V1519.80H166.53V1519.80ZM166.53 1519.80V1511.69H169.10V1519.80ZM169.10 1519.80V1519.80H171.66V1519.80ZM171.66 1519.80V1507.73H174.23V1519.80ZM174.23 1519.80V1519.80H176.79V1519.80ZM176.79 1519.80V1503.59H179.36V1519.80ZM179.36 1519.80V1519.80H181.93V1519.80ZM181.93 1519.80V1498.72H184.49V1519.80ZM184.49 1519.80V1519.80H187.06V1519.80ZM187.06 1519.80V1492.77H189.62V1519.80ZM189.62 1519.80V1519.80H192.19V1519.80ZM192.19 1519.80V1484.85H194.75V1519.80ZM194.75 1519.80V1519.80H197.31V1519.80ZM197.31 1519.80V1480.70H199.88V1519.80ZM199.88 1519.80V1519.80H202.44V1519.80ZM202.44 1519.80V1448.99H205.01V1519.80ZM205.01 1519.80V1470.25H207.57V1519.80ZM207.57 1519.80V1519.80H210.14V1519.80ZM210.14 1519.80V1470.25H212.70V1519.80ZM212.70 1519.80V1519.80H215.27V1519.80ZM215.27 1519.80V1467.01H217.83V1519.80ZM217.83 1519.80V1519.80H220.40V1519.80ZM220.40 1519.80V1458.90H222.96V1519.80ZM222.96 1519.80V1519.80H225.53V1519.80ZM225.53 1519.80V1458.90H228.09V1519.80ZM228.09 1519.80V1519.80H230.66V1519.80ZM230.66 1519.80V1460.89H233.22V1519.80ZM233.22 1519.80V1519.80H235.79V1519.80ZM235.79 1519.80V1465.03H238.35V1519.80ZM238.35 1519.80V1519.80H240.92V1519.80ZM240.92 1519.80V1449.90H243.49V1519.80ZM243.49 1519.80V1519.80H246.05V1519.80ZM246.05 1519.80V1446.47H248.62V1519.80ZM248.62 1519.80V1440.89H251.18V1519.80ZM251.18 1519.80V1519.80H253.75V1519.80ZM253.75 1519.80V1450.80H256.31V1519.80ZM256.31 1519.80V1519.80H258.88V1519.80ZM258.88 1519.80V1452.42H261.44V1519.80ZM261.44 1519.80V1519.80H264.00V1519.80ZM264.00 1519.80V1455.48H266.57V1519.80ZM266.57 1519.80V1519.80H269.13V1519.80ZM269.13 1519.80V1444.31H271.70V1519.80ZM271.70 1519.80V1519.80H274.26V1519.80ZM274.26 1519.80V1450.44H276.83V1519.80ZM276.83 1519.80V1519.80H279.39V1519.80ZM279.39 1519.80V1452.78H281.96V1519.80ZM281.96 1519.80V1519.80H284.52V1519.80ZM284.52 1519.80V1450.08H287.09V1519.80ZM287.09 1519.80V1519.80H289.65V1519.80ZM289.65 1519.80V1454.04H292.22V1519.80ZM292.22 1519.80V1461.61H294.78V1519.80ZM294.78 1519.80V1519.80H297.35V1519.80ZM297.35 1519.80V1461.61H299.91V1519.80ZM299.92 1519.80V1519.80H302.48V1519.80ZM302.48 1519.80V1466.47H305.05V1519.80ZM305.05 1519.80V1519.80H307.61V1519.80ZM307.61 1519.80V1473.86H310.18V1519.80ZM310.18 1519.80V1519.80H312.74V1519.80ZM312.74 1519.80V1468.63H315.31V1519.80ZM315.31 1519.80V1519.80H317.87V1519.80ZM317.87 1519.80V1477.28H320.44V1519.80ZM320.44 1519.80V1519.80H323.00V1519.80ZM323.00 1519.80V1480.70H325.56V1519.80ZM325.56 1519.80V1519.80H328.13V1519.80ZM328.13 1519.80V1481.42H330.69V1519.80ZM330.69 1519.80V1519.80H333.26V1519.80ZM333.26 1519.80V1485.57H335.82V1519.80ZM335.82 1519.80V1519.80H338.39V1519.80ZM338.39 1519.80V1490.43H340.95V1519.80ZM340.95 1519.80V1491.33H343.52V1519.80ZM343.52 1519.80V1519.80H346.08V1519.80ZM346.08 1519.80V1492.77H348.65V1519.80ZM348.65 1519.80V1519.80H351.21V1519.80ZM351.21 1519.80V1495.84H353.78V1519.80ZM353.78 1519.80V1519.80H356.34V1519.80ZM356.34 1519.80V1495.30H358.91V1519.80ZM358.91 1519.80V1519.80H361.47V1519.80ZM361.47 1519.80V1500.70H364.04V1519.80ZM364.04 1519.80V1519.80H366.61V1519.80ZM366.61 1519.80V1504.67H369.17V1519.80ZM369.17 1519.80V1519.80H371.74V1519.80ZM371.74 1519.80V1505.57H374.30V1519.80ZM374.30 1519.80V1519.80H376.87V1519.80ZM376.87 1519.80V1504.31H379.43V1519.80ZM379.43 1519.80V1519.80H382.00V1519.80ZM382.00 1519.80V1504.31H384.56V1519.80ZM384.56 1519.80V1507.37H387.12V1519.80ZM387.12 1519.80V1519.80H389.69V1519.80ZM389.69 1519.80V1508.09H392.25V1519.80ZM392.25 1519.80V1519.80H394.82V1519.80ZM394.82 1519.80V1512.59H397.38V1519.80ZM397.38 1519.80V1519.80H399.95V1519.80ZM399.95 1519.80V1512.23H402.51V1519.80ZM402.51 1519.80V1519.80H405.08V1519.80ZM405.08 1519.80V1515.12H407.64V1519.80ZM407.64 1519.80V1519.80H410.21V1519.80ZM410.21 1519.80V1516.74H412.77V1519.80ZM412.77 1519.80V1519.80H415.34V1519.80ZM415.34 1519.80V1515.30H417.91V1519.80ZM417.91 1519.80V1519.80H420.47V1519.80ZM420.47 1519.80V1516.74H423.04V1519.80ZM423.04 1519.80V1519.80H425.60V1519.80ZM425.60 1519.80V1517.82H428.17V1519.80ZM428.17 1519.80V1519.80H430.73V1519.80ZM430.73 1519.80V1517.46H433.30V1519.80ZM433.30 1519.80V1517.46H435.86V1519.80ZM435.86 1519.80V1519.80H438.43V1519.80ZM438.43 1519.80V1518.18H440.99V1519.80ZM440.99 1519.80V1519.80H443.56V1519.80ZM443.56 1519.80V1518.90H446.12V1519.80ZM446.12 1519.80V1519.80H448.69V1519.80ZM448.69 1519.80V1519.08H451.25V1519.80ZM451.25 1519.80V1519.80H453.81V1519.80ZM453.81 1519.80V1519.26H456.38V1519.80ZM456.38 1519.80V1519.80H458.94V1519.80ZM458.94 1519.80V1519.08H461.51V1519.80ZM461.51 1519.80V1519.80H464.07V1519.80ZM464.07 1519.80V1519.26H466.64V1519.80ZM466.64 1519.80V1519.80H469.20V1519.80ZM469.20 1519.80V1519.26H471.77V1519.80ZM471.77 1519.80V1519.80H474.33V1519.80ZM474.33 1519.80V1519.44H476.90V1519.80Z" fill="none" stroke="#000" stroke-width="1.6" stroke-linejoin="miter"/><path d="M102.90 1519.80V1411.70M92.70 1519.80H102.90M92.70 1501.78H102.90M92.70 1483.77H102.90M92.70 1465.75H102.90M92.70 1447.73H102.90M92.70 1429.72H102.90M92.70 1411.70H102.90" fill="none" stroke="#000" stroke-width="1.6" stroke-linecap="round"/><text x="78.70" y="1519.80" transform="rotate(-90 78.70 1519.80)" text-anchor="middle" class="ax">0</text><text x="78.70" y="1483.77" transform="rotate(-90 78.70 1483.77)" text-anchor="middle" class="ax">200</text><text x="78.70" y="1429.72" transform="rotate(-90 78.70 1429.72)" text-anchor="middle" class="ax">500</text><path d="M153.71 1523.80H461.51M153.71 1523.80V1534.00M205.01 1523.80V1534.00M256.31 1523.80V1534.00M307.61 1523.80V1534.00M358.91 1523.80V1534.00M410.21 1523.80V1534.00M461.51 1523.80V1534.00" fill="none" stroke="#000" stroke-width="1.6" stroke-linecap="round"/><text x="153.71" y="1561.00" text-anchor="middle" class="ax">0.82</text><text x="205.01" y="1561.00" text-anchor="middle" class="ax">0.84</text><text x="256.31" y="1561.00" text-anchor="middle" class="ax">0.86</text><text x="307.61" y="1561.00" text-anchor="middle" class="ax">0.88</text><text x="358.91" y="1561.00" text-anchor="middle" class="ax">0.90</text><text x="410.21" y="1561.00" text-anchor="middle" class="ax">0.92</text><text x="461.51" y="1561.00" text-anchor="middle" class="ax">0.94</text><text x="297.10" y="1394.00" text-anchor="middle" class="ti">Challenge16−Kegg</text><text x="37.00" y="1465.50" transform="rotate(-90 37.00 1465.50)" text-anchor="middle" class="ax">Frequency</text><clipPath id="c13"><rect x="606.50" y="1407.38" width="420" height="117.42"/></clipPath><path clip-path="url(#c13)" d="M634.30 1519.80V1519.44H637.59V1519.80ZM637.59 1519.80V1519.44H640.89V1519.80ZM640.89 1519.80V1519.44H644.18V1519.80ZM644.18 1519.80V1519.26H647.48V1519.80ZM647.48 1519.80V1519.26H650.77V1519.80ZM650.77 1519.80V1519.26H654.07V1519.80ZM654.07 1519.80V1519.08H657.36V1519.80ZM657.36 1519.80V1519.08H660.66V1519.80ZM660.66 1519.80V1519.08H663.95V1519.80ZM663.95 1519.80V1519.08H667.24V1519.80ZM667.24 1519.80V1519.08H670.54V1519.80ZM670.54 1519.80V1518.90H673.83V1519.80ZM673.83 1519.80V1518.90H677.13V1519.80ZM677.13 1519.80V1518.36H680.42V1519.80ZM680.42 1519.80V1518.36H683.72V1519.80ZM683.72 1519.80V1518.36H687.01V1519.80ZM687.01 1519.80V1518.36H690.31V1519.80ZM690.31 1519.80V1514.94H693.60V1519.80ZM693.60 1519.80V1515.48H696.90V1519.80ZM696.90 1519.80V1509.17H700.19V1519.80ZM700.19 1519.80V1510.97H703.48V1519.80ZM703.48 1519.80V1506.65H706.78V1519.80ZM706.78 1519.80V1499.80H710.07V1519.80ZM710.07 1519.80V1508.63H713.37V1519.80ZM713.37 1519.80V1503.22H716.66V1519.80ZM716.66 1519.80V1505.21H719.96V1519.80ZM719.96 1519.80V1508.63H723.25V1519.80ZM723.25 1519.80V1503.59H726.55V1519.80ZM726.55 1519.80V1493.50H729.84V1519.80ZM729.84 1519.80V1504.85H733.13V1519.80ZM733.13 1519.80V1502.68H736.43V1519.80ZM736.43 1519.80V1503.95H739.72V1519.80ZM739.72 1519.80V1499.26H743.02V1519.80ZM743.02 1519.80V1502.50H746.31V1519.80ZM746.31 1519.80V1496.56H749.61V1519.80ZM749.61 1519.80V1496.56H752.90V1519.80ZM752.90 1519.80V1492.23H756.20V1519.80ZM756.20 1519.80V1490.97H759.49V1519.80ZM759.49 1519.80V1490.97H762.79V1519.80ZM762.79 1519.80V1489.53H766.08V1519.80ZM766.08 1519.80V1486.29H769.37V1519.80ZM769.37 1519.80V1488.45H772.67V1519.80ZM772.67 1519.80V1489.89H775.96V1519.80ZM775.96 1519.80V1489.71H779.26V1519.80ZM779.26 1519.80V1475.48H782.55V1519.80ZM782.55 1519.80V1484.85H785.85V1519.80ZM785.85 1519.80V1440.71H789.14V1519.80ZM789.14 1519.80V1469.71H792.44V1519.80ZM792.44 1519.80V1481.42H795.73V1519.80ZM795.73 1519.80V1478.18H799.02V1519.80ZM799.02 1519.80V1481.42H802.32V1519.80ZM802.32 1519.80V1474.58H805.61V1519.80ZM805.61 1519.80V1479.08H808.91V1519.80ZM808.91 1519.80V1474.04H812.20V1519.80ZM812.20 1519.80V1476.38H815.50V1519.80ZM815.50 1519.80V1478.72H818.79V1519.80ZM818.79 1519.80V1469.89H822.09V1519.80ZM822.09 1519.80V1482.87H825.38V1519.80ZM825.38 1519.80V1473.14H828.68V1519.80ZM828.68 1519.80V1477.46H831.97V1519.80ZM831.97 1519.80V1476.20H835.26V1519.80ZM835.26 1519.80V1478.72H838.56V1519.80ZM838.56 1519.80V1481.42H841.85V1519.80ZM841.85 1519.80V1472.78H845.15V1519.80ZM845.15 1519.80V1433.14H848.44V1519.80ZM848.44 1519.80V1481.78H851.74V1519.80ZM851.74 1519.80V1480.16H855.03V1519.80ZM855.03 1519.80V1481.60H858.33V1519.80ZM858.33 1519.80V1481.60H861.62V1519.80ZM861.62 1519.80V1482.15H864.91V1519.80ZM864.91 1519.80V1489.17H868.21V1519.80ZM868.21 1519.80V1488.45H871.50V1519.80ZM871.50 1519.80V1492.05H874.80V1519.80ZM874.80 1519.80V1495.48H878.09V1519.80ZM878.09 1519.80V1497.46H881.39V1519.80ZM881.39 1519.80V1495.84H884.68V1519.80ZM884.68 1519.80V1497.82H887.98V1519.80ZM887.98 1519.80V1498.90H891.27V1519.80ZM891.27 1519.80V1494.58H894.57V1519.80ZM894.57 1519.80V1501.42H897.86V1519.80ZM897.86 1519.80V1502.68H901.15V1519.80ZM901.15 1519.80V1503.77H904.45V1519.80ZM904.45 1519.80V1467.55H907.74V1519.80ZM907.74 1519.80V1510.97H911.04V1519.80ZM911.04 1519.80V1511.33H914.33V1519.80ZM914.33 1519.80V1515.66H917.63V1519.80ZM917.63 1519.80V1505.57H920.92V1519.80ZM920.92 1519.80V1513.31H924.22V1519.80ZM924.22 1519.80V1514.21H927.51V1519.80ZM927.51 1519.80V1512.95H930.80V1519.80ZM930.80 1519.80V1515.66H934.10V1519.80ZM934.10 1519.80V1518.00H937.39V1519.80ZM937.39 1519.80V1516.56H940.69V1519.80ZM940.69 1519.80V1518.00H943.98V1519.80ZM943.98 1519.80V1518.00H947.28V1519.80ZM947.28 1519.80V1517.64H950.57V1519.80ZM950.57 1519.80V1518.00H953.87V1519.80ZM953.87 1519.80V1518.00H957.16V1519.80ZM957.16 1519.80V1517.28H960.46V1519.80ZM960.46 1519.80V1517.28H963.75V1519.80ZM963.75 1519.80V1518.54H967.04V1519.80ZM967.04 1519.80V1518.54H970.34V1519.80ZM970.34 1519.80V1518.72H973.63V1519.80ZM973.63 1519.80V1518.90H976.93V1519.80ZM976.93 1519.80V1519.26H980.22V1519.80ZM980.22 1519.80V1519.26H983.52V1519.80ZM983.52 1519.80V1519.26H986.81V1519.80ZM986.81 1519.80V1519.26H990.11V1519.80ZM990.11 1519.80V1519.26H993.40V1519.80Z" fill="#dcdcdc" stroke="#000" stroke-width="1.6" stroke-linejoin="miter"/><path d="M619.40 1519.80V1411.70M609.20 1519.80H619.40M609.20 1501.78H619.40M609.20 1483.77H619.40M609.20 1465.75H619.40M609.20 1447.73H619.40M609.20 1429.72H619.40M609.20 1411.70H619.40" fill="none" stroke="#000" stroke-width="1.6" stroke-linecap="round"/><text x="595.20" y="1519.80" transform="rotate(-90 595.20 1519.80)" text-anchor="middle" class="ax">0</text><text x="595.20" y="1483.77" transform="rotate(-90 595.20 1483.77)" text-anchor="middle" class="ax">200</text><text x="595.20" y="1429.72" transform="rotate(-90 595.20 1429.72)" text-anchor="middle" class="ax">500</text><path d="M693.60 1523.80H940.69M693.60 1523.80V1534.00M775.96 1523.80V1534.00M858.33 1523.80V1534.00M940.69 1523.80V1534.00" fill="none" stroke="#000" stroke-width="1.6" stroke-linecap="round"/><text x="693.60" y="1561.00" text-anchor="middle" class="ax">0.80</text><text x="775.96" y="1561.00" text-anchor="middle" class="ax">0.85</text><text x="858.33" y="1561.00" text-anchor="middle" class="ax">0.90</text><text x="940.69" y="1561.00" text-anchor="middle" class="ax">0.95</text><text x="813.60" y="1394.00" text-anchor="middle" class="ti">Challenge17−Kegg</text><text x="553.50" y="1465.50" transform="rotate(-90 553.50 1465.50)" text-anchor="middle" class="ax">Frequency</text><g shape-rendering="crispEdges"><rect x="460" y="217" width="4" height="3" fill="#fff"/><rect x="467" y="217" width="3" height="3" fill="#fff"/><rect x="310" y="49" width="4" height="5" fill="#fff"/><rect x="318" y="49" width="4" height="5" fill="#fff"/><rect x="977" y="217" width="3" height="3" fill="#fff"/><rect x="983" y="217" width="3" height="3" fill="#fff"/><rect x="460" y="441" width="4" height="3" fill="#fff"/><rect x="467" y="441" width="3" height="3" fill="#fff"/><rect x="460" y="664" width="4" height="4" fill="#fff"/><rect x="467" y="664" width="3" height="4" fill="#fff"/><rect x="977" y="664" width="3" height="4" fill="#fff"/><rect x="983" y="664" width="3" height="4" fill="#fff"/><rect x="470" y="888" width="3" height="3" fill="#fff"/><rect x="476" y="888" width="4" height="3" fill="#fff"/><rect x="304" y="720" width="4" height="4" fill="#fff"/><rect x="312" y="720" width="4" height="4" fill="#fff"/><rect x="977" y="888" width="3" height="3" fill="#fff"/><rect x="983" y="888" width="3" height="3" fill="#fff"/><rect x="821" y="720" width="4" height="4" fill="#fff"/><rect x="829" y="720" width="4" height="4" fill="#fff"/><rect x="832" y="720" width="4" height="4" fill="#fff"/><rect x="840" y="720" width="4" height="4" fill="#fff"/><rect x="304" y="943" width="4" height="5" fill="#fff"/><rect x="312" y="943" width="4" height="5" fill="#fff"/><rect x="820" y="943" width="4" height="5" fill="#fff"/><rect x="828" y="943" width="4" height="5" fill="#fff"/><rect x="460" y="1335" width="4" height="4" fill="#fff"/><rect x="467" y="1335" width="3" height="4" fill="#fff"/><rect x="304" y="1167" width="4" height="5" fill="#fff"/><rect x="312" y="1167" width="4" height="5" fill="#fff"/><rect x="820" y="1167" width="4" height="5" fill="#fff"/><rect x="828" y="1167" width="4" height="5" fill="#fff"/><rect x="304" y="1391" width="4" height="4" fill="#fff"/><rect x="312" y="1391" width="4" height="4" fill="#fff"/><rect x="820" y="1391" width="4" height="4" fill="#fff"/><rect x="828" y="1391" width="4" height="4" fill="#fff"/></g></svg>
</body></html>
